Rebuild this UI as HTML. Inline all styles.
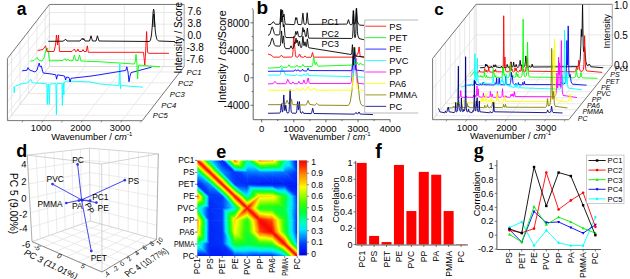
<!DOCTYPE html><html><head><meta charset="utf-8"><style>html,body{margin:0;padding:0;background:#fff;width:630px;height:279px;overflow:hidden}svg{display:block}text{font-family:"Liberation Sans",sans-serif}</style></head><body>
<svg width="630" height="279" viewBox="0 0 630 279">
<rect width="630" height="279" fill="#fff"/>
<g id="pa">
<line x1="84.9" y1="4.45" x2="84.9" y2="66.5" stroke="#e3e3e3" stroke-width="0.8" />
<line x1="124.4" y1="4.45" x2="124.4" y2="66.5" stroke="#e3e3e3" stroke-width="0.8" />
<line x1="163.9" y1="4.45" x2="163.9" y2="66.5" stroke="#e3e3e3" stroke-width="0.8" />
<line x1="49.4" y1="12.5" x2="184.2" y2="12.5" stroke="#e3e3e3" stroke-width="0.8" />
<line x1="49.4" y1="24.2" x2="184.2" y2="24.2" stroke="#e3e3e3" stroke-width="0.8" />
<line x1="49.4" y1="36" x2="184.2" y2="36" stroke="#e3e3e3" stroke-width="0.8" />
<line x1="49.4" y1="47.8" x2="184.2" y2="47.8" stroke="#e3e3e3" stroke-width="0.8" />
<line x1="49.4" y1="59.6" x2="184.2" y2="59.6" stroke="#e3e3e3" stroke-width="0.8" />
<line x1="11.6" y1="53.14" x2="11.6" y2="115.19" stroke="#e3e3e3" stroke-width="0.8" />
<line x1="20" y1="42.32" x2="20" y2="104.37" stroke="#e3e3e3" stroke-width="0.8" />
<line x1="28.4" y1="31.5" x2="28.4" y2="93.55" stroke="#e3e3e3" stroke-width="0.8" />
<line x1="36.8" y1="20.68" x2="36.8" y2="82.73" stroke="#e3e3e3" stroke-width="0.8" />
<line x1="45.2" y1="9.86" x2="45.2" y2="71.91" stroke="#e3e3e3" stroke-width="0.8" />
<line x1="7.4" y1="66.6" x2="49.4" y2="12.5" stroke="#e3e3e3" stroke-width="0.8" />
<line x1="7.4" y1="78.3" x2="49.4" y2="24.2" stroke="#e3e3e3" stroke-width="0.8" />
<line x1="7.4" y1="90.1" x2="49.4" y2="36" stroke="#e3e3e3" stroke-width="0.8" />
<line x1="7.4" y1="101.9" x2="49.4" y2="47.8" stroke="#e3e3e3" stroke-width="0.8" />
<line x1="7.4" y1="113.7" x2="49.4" y2="59.6" stroke="#e3e3e3" stroke-width="0.8" />
<line x1="42.9" y1="120.6" x2="84.9" y2="66.5" stroke="#e3e3e3" stroke-width="0.8" />
<line x1="82.4" y1="120.6" x2="124.4" y2="66.5" stroke="#e3e3e3" stroke-width="0.8" />
<line x1="121.9" y1="120.6" x2="163.9" y2="66.5" stroke="#e3e3e3" stroke-width="0.8" />
<line x1="11.6" y1="115.19" x2="146.4" y2="115.29" stroke="#e3e3e3" stroke-width="0.8" />
<line x1="20" y1="104.37" x2="154.8" y2="104.47" stroke="#e3e3e3" stroke-width="0.8" />
<line x1="28.4" y1="93.55" x2="163.2" y2="93.65" stroke="#e3e3e3" stroke-width="0.8" />
<line x1="36.8" y1="82.73" x2="171.6" y2="82.83" stroke="#e3e3e3" stroke-width="0.8" />
<line x1="45.2" y1="71.91" x2="180" y2="72.01" stroke="#e3e3e3" stroke-width="0.8" />
<line x1="49.4" y1="4.45" x2="49.4" y2="66.5" stroke="#d0d0d0" stroke-width="0.8" />
<line x1="49.4" y1="66.5" x2="184.2" y2="66.6" stroke="#d0d0d0" stroke-width="0.8" />
<line x1="7.4" y1="120.6" x2="49.4" y2="66.5" stroke="#d0d0d0" stroke-width="0.8" />
<polyline points="13.8,86.4 14.2,92.7 14.8,86.8 15.4,86.4 20.8,84 28,82.8 29.5,81 30.6,79.2 31.5,81 32.4,82.8 45.9,83.7 46.8,84 47.3,104.5 48,84 48.6,84 49.3,104.5 50,84 55.9,83.6 56.4,114.7 56.9,83.5 61.9,83.3 62.4,105.5 62.9,83.3 63.5,83 63.8,95 64.2,83 65.6,81 90,81.9 100,84 119,85.5 119.8,64 120.5,88.7 121.2,85.5 143,87.2" fill="none" stroke="#00ffff" stroke-width="0.9" stroke-linejoin="round" />
<polyline points="22.2,70.8 27,70.2 28,67.6 29.5,70 31,70.5 35.1,72 37,70 38.2,66 39.2,63.1 40.2,67 41.4,66.1 42.3,70 43.2,73 50,73.8 55.7,74.7 56.6,79.2 57.5,74.8 64.5,76 65.6,80 66.5,77 69,77.5 70.1,82 71,78.3 90,76.2 100,74.7 125.8,70.4 126.8,66.8 128,72 129,81.8 130,76 131.1,72.6 151.5,67.2" fill="none" stroke="#0000ff" stroke-width="0.9" stroke-linejoin="round" />
<polyline points="30.6,61.2 34,60.5 37,57.5 38.5,60 42,61 44,58 46,50 47.2,48 48.3,52 49.5,60.9 63,60.5 65,58.5 66,60.5 68,59.5 70,60.8 73,60.5 74.4,55 75.8,60.5 78,60.5 79.5,55 81,61 100,61.8 134.4,64 135.2,62 136,54.3 136.8,62 137.6,79 138.2,70 138.7,65 140,65.2 160,66.8" fill="none" stroke="#00ff00" stroke-width="0.9" stroke-linejoin="round" />
<polyline points="37.7,50.5 43,49.5 45.5,45.8 47,51.5 54,51.5 55.5,45 56.5,35 57.5,45 58.5,35 59.5,51.5 72,51.5 74.4,49 75.5,51.5 77,51 78,49 79,51.5 82,51.5 83,49.5 84,51.5 86.3,51.5 87.3,45.8 88.3,52.3 143.5,52.3 144.8,65 145.6,52 146.6,31.5 147.6,52.5 149,53.3 169,53.3" fill="none" stroke="#ff0000" stroke-width="0.9" stroke-linejoin="round" />
<polyline points="48.3,41.3 63,41.2 65.8,39.3 67,41 80,41 82.3,38.2 83.2,40 83.8,38.5 85,41 89.5,41 91,35.8 92.5,41 96,41 97.4,35.8 99,41 149.5,41.5 150.5,40 151.5,35 152.4,24 153.1,12 153.6,9.2 154.1,11 154.6,21 155.2,30 156,36 157,39.5 158.5,41 175,41.6" fill="none" stroke="#000000" stroke-width="0.9" stroke-linejoin="round" />
<polyline points="152.9,27 153.3,17 153.8,14 154.3,17 154.8,27" fill="none" stroke="#000" stroke-width="0.8" stroke-linejoin="round" />
<line x1="49.4" y1="4.45" x2="184.2" y2="4.45" stroke="#777" stroke-width="1" />
<line x1="7.4" y1="58.55" x2="49.4" y2="4.45" stroke="#777" stroke-width="1" />
<line x1="7.4" y1="58.55" x2="7.4" y2="120.6" stroke="#777" stroke-width="1" />
<line x1="7.4" y1="120.6" x2="142.2" y2="120.7" stroke="#777" stroke-width="1" />
<line x1="142.2" y1="120.7" x2="184.2" y2="66.6" stroke="#777" stroke-width="1" />
<line x1="184.2" y1="4.45" x2="184.2" y2="66.6" stroke="#999" stroke-width="0.9" />
<line x1="184.2" y1="12.5" x2="185.7" y2="12.5" stroke="#bbb" stroke-width="0.6" />
<line x1="184.2" y1="24.2" x2="185.7" y2="24.2" stroke="#bbb" stroke-width="0.6" />
<line x1="184.2" y1="36" x2="185.7" y2="36" stroke="#bbb" stroke-width="0.6" />
<line x1="184.2" y1="47.8" x2="185.7" y2="47.8" stroke="#bbb" stroke-width="0.6" />
<line x1="184.2" y1="59.6" x2="185.7" y2="59.6" stroke="#bbb" stroke-width="0.6" />
<line x1="23.15" y1="120.6" x2="21.95" y2="122.4" stroke="#666" stroke-width="0.7" />
<line x1="42.9" y1="120.6" x2="41.7" y2="122.4" stroke="#666" stroke-width="0.7" />
<line x1="62.65" y1="120.6" x2="61.45" y2="122.4" stroke="#666" stroke-width="0.7" />
<line x1="82.4" y1="120.6" x2="81.2" y2="122.4" stroke="#666" stroke-width="0.7" />
<line x1="102.15" y1="120.6" x2="100.95" y2="122.4" stroke="#666" stroke-width="0.7" />
<line x1="121.9" y1="120.6" x2="120.7" y2="122.4" stroke="#666" stroke-width="0.7" />
<line x1="141.65" y1="120.6" x2="140.45" y2="122.4" stroke="#666" stroke-width="0.7" />
<text x="16.8" y="14.5" font-size="17.5" text-anchor="start" font-weight="bold" font-style="normal" fill="#000" >a</text>
<text x="187.5" y="15.4" font-size="10" text-anchor="start" font-weight="normal" font-style="normal" fill="#000" >7.6</text>
<text x="187.5" y="27.1" font-size="10" text-anchor="start" font-weight="normal" font-style="normal" fill="#000" >3.8</text>
<text x="187.5" y="38.9" font-size="10" text-anchor="start" font-weight="normal" font-style="normal" fill="#000" >0.0</text>
<text x="186.5" y="50.7" font-size="10" text-anchor="start" font-weight="normal" font-style="normal" fill="#000" >-3.8</text>
<text x="186.5" y="62.5" font-size="10" text-anchor="start" font-weight="normal" font-style="normal" fill="#000" >-7.6</text>
<text x="182" y="37.7" font-size="10" text-anchor="middle" font-weight="normal" font-style="normal" fill="#000" transform="rotate(-90 182 37.7)" >Intensity / Score</text>
<text x="41.1" y="131" font-size="9.2" text-anchor="middle" font-weight="normal" font-style="normal" fill="#000" >1000</text>
<text x="80.6" y="131" font-size="9.2" text-anchor="middle" font-weight="normal" font-style="normal" fill="#000" >2000</text>
<text x="120.1" y="131" font-size="9.2" text-anchor="middle" font-weight="normal" font-style="normal" fill="#000" >3000</text>
<text x="51.2" y="140" font-size="9.4" text-anchor="start" font-weight="normal" font-style="normal" fill="#000" >Wavenumber / <tspan font-style="italic">cm</tspan><tspan font-size="6" dy="-4">-1</tspan></text>
<text x="186.5" y="75.2" font-size="7.7" text-anchor="start" font-weight="normal" font-style="italic" fill="#000" >PC1</text>
<text x="178" y="85.6" font-size="7.7" text-anchor="start" font-weight="normal" font-style="italic" fill="#000" >PC2</text>
<text x="169.8" y="96.8" font-size="7.7" text-anchor="start" font-weight="normal" font-style="italic" fill="#000" >PC3</text>
<text x="161.3" y="107.6" font-size="7.7" text-anchor="start" font-weight="normal" font-style="italic" fill="#000" >PC4</text>
<text x="152.8" y="118.2" font-size="7.7" text-anchor="start" font-weight="normal" font-style="italic" fill="#000" >PC5</text>
</g>
<g id="pb">
<polyline points="268,113.29 279.8,113.09 280.2,112.59 280.6,110.52 281.2,104.15 281.4,104.12 282.2,111.53 282.4,112.05 282.6,111.96 283,109.24 283.6,97.06 283.8,94.95 284.6,108.98 284.8,110.51 285,110.63 285.8,105.14 286.6,111.51 287,112.79 288.2,112.99 288.6,112.75 289,111.53 289.4,106.2 290,89.75 290.2,89.76 291,109.72 291.4,112.47 292,113.13 296,113.25 296.4,112.84 296.8,110.93 297.4,102.92 297.6,101.51 298.4,109.75 298.6,109.76 299.4,101.53 300.2,110.97 300.6,112.89 301,113.29 301.6,113.2 302.6,111.61 303.6,113.35 311.2,113.6 311.6,113.18 312.6,108.28 312.8,108.29 313.6,112.66 314,113.5 354.6,114.17 356,112.36 357.2,114 357.6,114.06 358.2,113.38 358.8,112.07 359,111.9 360.2,114.04 373,114.6" fill="none" stroke="#000080" stroke-width="0.9" stroke-linejoin="round" />
<polyline points="268,104.69 280.4,104.65 282,103.36 284,104.69 285,104.6 285.6,104.02 287,100.27 287.2,100.27 288.6,104.04 289.4,104.68 290,104.66 290.4,104.23 291.4,99.11 291.6,99.12 292.4,103.74 292.8,104.63 305.8,105 306.4,104.61 308,100.58 308.2,100.58 309.6,104.37 314.8,105.17 315.8,104.45 316.6,103.42 317,103.43 318.6,105.16 348,105.44 349.2,104.41 350.2,101.97 351.8,92.24 353.6,72.82 354.8,47.37 355,48.7 356,65.9 357.6,78.57 359.6,99.22 360.8,103.79 362.2,105.53 364,105.94" fill="none" stroke="#808000" stroke-width="0.9" stroke-linejoin="round" />
<polyline points="268,90.2 295.6,90.24 296.2,89.75 297,88.43 297.2,88.43 298.4,90.16 301.2,90.2 302.6,88.21 303.8,90.07 306,90.2 306.6,89.7 308,86.5 308.2,86.51 309.6,89.72 311.6,90.34 312.4,90.01 313.8,88.03 314,88.03 315.6,90.21 351,90.14 351.8,89.54 352.2,88.5 352.6,85.71 354,57.35 354.2,56.96 354.6,59.36 354.8,59.91 355.2,58.74 355.4,58.56 355.8,63.91 356.8,84.93 357.2,88.19 357.6,89.47 364,90.8" fill="none" stroke="#ffff00" stroke-width="0.9" stroke-linejoin="round" />
<polyline points="268,83.89 273.2,83.63 274.8,81.4 275,81.3 276.8,83.63 285.8,83.73 286.4,83.24 287.6,79.4 287.8,79.39 289.6,83.28 291.4,83.78 292,83.45 292.8,81.94 293,81.94 294,83.66 297.6,83.74 298,83.36 298.8,81.37 299,81.37 299.8,83.35 302.4,83.74 302.8,83.44 303.8,79.99 304,79.99 304.8,83.03 305.2,83.6 306.4,83.61 306.8,83.18 308,78.02 308.2,78.02 309.2,82.73 309.6,83.49 350.4,83.46 351,82.95 351.4,81.37 352.4,63.75 352.6,63.56 353.2,73.07 353.4,73.26 354.2,53.67 354.4,53.58 355,68.97 355.2,70.54 355.4,68.82 355.8,60.1 356,58.09 357,79.75 357.4,82.51 357.8,83.2 364,83.94" fill="none" stroke="#ff00ff" stroke-width="0.9" stroke-linejoin="round" />
<polyline points="268,75.09 279.8,75.06 280.4,74.42 281.8,67.88 282,67.82 283,71.6 283.2,71.72 283.8,71.13 284,71.25 285.2,74.64 295.6,75.61 297,74.28 298.4,75.67 302.6,75.72 304,73.93 305.2,75.62 306,75.78 306.6,75.23 307.4,73.22 307.6,73.03 308.8,75.6 352.2,76.62 352.8,76.07 353.2,74.55 353.6,70.04 354.4,51.07 354.6,49.17 354.8,51.08 355.8,72.87 356.2,75.62 356.6,76.45 364,77.37" fill="none" stroke="#00ffff" stroke-width="0.9" stroke-linejoin="round" />
<polyline points="268,71.3 294.2,71.04 295.2,69.73 295.4,69.73 296.4,70.99 297,70.93 298,69.68 299,70.95 301.4,71.01 302,70.25 302.4,69.36 302.6,69.17 303.6,70.86 306.4,71.03 307,70.57 308,68.22 308.2,68.22 309.2,70.57 351.2,70.68 351.8,70.2 352.2,68.65 353.2,56.17 353.4,56.86 353.8,59.52 354,58.78 354.4,53.57 354.6,52.36 355.6,68.07 356,70.03 364,70.98" fill="none" stroke="#0000ff" stroke-width="0.9" stroke-linejoin="round" />
<polyline points="268,68.1 279.6,67.55 281.2,65.68 281.4,65.67 282.8,67.35 287.2,67.25 288,66.37 288.8,64.93 289,64.92 290.4,67.03 295.6,66.98 297,65.11 298.2,66.76 301.4,66.78 302,66.15 302.8,64.47 303,64.46 304.2,66.58 312,66.32 312.4,65.86 312.8,64.22 313.6,57.42 313.8,57.54 315,64.55 315.2,64.81 315.4,64.65 316.2,62.22 316.4,62.23 317.4,65.55 318,66.19 352.2,65.05 352.6,64.7 353.2,62.86 353.8,59.61 354,59.19 354.2,59.59 355.2,64.14 355.6,64.55 356,64.23 356.8,62.25 357,62.05 358.2,64.55 358.8,64.84 359.4,64.58 360.4,63.01 360.6,63.01 361.8,64.71 364,64.87" fill="none" stroke="#00ff00" stroke-width="0.9" stroke-linejoin="round" />
<polyline points="268,53.82 270,54.86 271,54.88 273.4,57.07 279.6,57.18 281.2,55.22 281.4,55.13 283.2,57.19 291.8,57.06 292.2,56.81 292.6,55.73 293,51.19 293.6,36.79 293.8,36.12 295.4,54.47 295.8,56.37 296.2,56.97 298,57.15 298.6,56.5 299.4,54.22 299.6,53.99 300.8,56.88 303.6,57.27 305,55.92 306.4,57.29 311,57.25 311.4,56.87 312.4,52.57 312.6,52.57 313.4,56.39 313.8,57.13 355.8,57.15 356.4,56.5 357.4,53.2 357.6,53.08 358,53.52 358.2,53.28 359,46.88 359.2,46.99 360,55.14 360.4,56.7 364,57.36" fill="none" stroke="#ff0000" stroke-width="0.9" stroke-linejoin="round" />
<polyline points="268,46.28 269.2,45.87 270,44.79 272,38.12 272.2,37.97 272.6,38.55 274.4,44.76 275.4,45.96 279.8,46.2 280.2,45.73 280.6,43.43 281.4,30.99 281.6,31.01 282.4,42.8 282.6,43.3 283.4,35.93 283.6,36.06 284.4,45.65 284.8,47.58 286,48.65 289.6,48.64 290,48.32 290.8,46.05 291,45.76 292,48.25 292.6,48.54 293.2,48.29 293.6,47.35 294.4,42.51 294.6,42.32 295,43.6 295.2,43.59 296,38.08 296.6,42.14 296.8,42.74 297,42.29 297.4,40.11 297.6,40.25 298.4,45.85 298.6,45.95 299.4,41.31 299.6,41.33 300.4,46.65 300.8,47.62 301.2,47.74 301.6,47.35 302,45.59 302.8,36.35 303,36.33 303.8,45.07 304,45.78 304.2,45.63 304.8,42.32 305,41.77 306,46.57 306.2,46.68 306.6,45.23 307.2,39.72 307.4,38.91 308.4,46.73 308.8,47.76 351,54.5 351.4,54.23 351.8,52.29 352.4,44.67 352.6,46.36 353.2,64.91 353.4,65.25 354,48.88 354.2,47.35 355,55.12 355.4,56.01 364,56.99" fill="none" stroke="#000" stroke-width="0.9" stroke-linejoin="round" />
<polyline points="268,35.27 269.2,34.85 270,33.75 272,27.01 272.2,26.85 272.6,27.43 274.4,33.71 275.4,34.9 278.8,34.91 279.4,34.61 279.8,33.4 280.2,28.64 280.8,13.13 281,10.61 281.6,20.59 281.8,22.1 282,21 282.4,15.63 282.6,15.91 283.2,25.97 283.4,26.97 284,24.29 285,35.41 285.4,36.91 286,37.56 294,37.63 294.6,37.16 295,35.91 295.6,32.02 295.8,31.39 296.6,34.5 296.8,34.28 297.4,31.27 297.6,31.29 298.4,35.83 298.8,36.66 301.2,36.72 301.6,36.4 302,35.02 302.8,27.68 303,27.58 303.6,31.8 303.8,31.99 304.4,29.9 305.4,36.05 305.8,36.73 306.2,36.52 306.6,34.82 307.2,28.91 307.4,28.06 308.4,37.03 308.8,38.16 351.6,38.48 352.2,38.14 352.4,37.78 352.6,36.83 353,29.94 353.6,10.91 354.4,34.49 354.6,36.73 354.8,37.58 355,37.78 355.2,37.67 355.4,37.23 355.8,33.59 356.6,8.44 357.4,31.31 357.8,35.2 359,38.56 364,39.74" fill="none" stroke="#000" stroke-width="0.9" stroke-linejoin="round" />
<polyline points="268,24.65 271,24.4 273.2,21.72 273.6,21.86 275.4,24.28 279.2,24.28 279.6,23.88 280,22.23 281,9.16 281.6,14.77 281.8,15.35 282.4,10.11 282.6,10.2 283.2,16.68 283.4,17.04 284,14.15 285,23.03 285.4,24.15 294,24.64 294.4,24.39 294.8,23.28 295.6,17.67 296.2,19.47 296.8,17.67 297.6,23.29 298,24.4 301,24.63 301.4,24.42 301.8,23.51 302.8,13.18 303,13.18 303.8,22.35 304.2,24.09 304.8,24.55 305.6,24.46 306,23.85 306.4,21.49 307,13.87 307.2,12.72 308.2,23.06 308.6,24.37 346.8,24.11 347.2,23.81 348.4,19.7 348.6,19.73 349.6,23.78 350.2,24.6 351.8,24.69 352.2,24.26 352.6,21.66 353.2,10.63 353.4,10.63 354,21.6 354.4,24.09 354.6,24.31 355,24.11 355.4,22.7 356.2,8.72 356.4,8.39 357.2,20.76 358.4,24.05 359.8,25.12 364,25.35" fill="none" stroke="#000" stroke-width="0.9" stroke-linejoin="round" />
<line x1="253.2" y1="9.7" x2="253.2" y2="119.7" stroke="#666" stroke-width="1" />
<line x1="253.2" y1="119.7" x2="390.1" y2="119.7" stroke="#666" stroke-width="1" />
<line x1="250.5" y1="22.8" x2="253.2" y2="22.8" stroke="#444" stroke-width="0.8" />
<line x1="250.5" y1="50.3" x2="253.2" y2="50.3" stroke="#444" stroke-width="0.8" />
<line x1="250.5" y1="77.8" x2="253.2" y2="77.8" stroke="#444" stroke-width="0.8" />
<line x1="250.5" y1="105.3" x2="253.2" y2="105.3" stroke="#444" stroke-width="0.8" />
<line x1="251.8" y1="9.05" x2="253.2" y2="9.05" stroke="#444" stroke-width="0.8" />
<line x1="251.8" y1="36.55" x2="253.2" y2="36.55" stroke="#444" stroke-width="0.8" />
<line x1="251.8" y1="64.05" x2="253.2" y2="64.05" stroke="#444" stroke-width="0.8" />
<line x1="251.8" y1="91.55" x2="253.2" y2="91.55" stroke="#444" stroke-width="0.8" />
<line x1="261.7" y1="119.5" x2="261.7" y2="122.3" stroke="#444" stroke-width="0.8" />
<line x1="277.75" y1="119.5" x2="277.75" y2="121" stroke="#444" stroke-width="0.8" />
<line x1="293.8" y1="119.5" x2="293.8" y2="122.3" stroke="#444" stroke-width="0.8" />
<line x1="309.85" y1="119.5" x2="309.85" y2="121" stroke="#444" stroke-width="0.8" />
<line x1="325.9" y1="119.5" x2="325.9" y2="122.3" stroke="#444" stroke-width="0.8" />
<line x1="341.95" y1="119.5" x2="341.95" y2="121" stroke="#444" stroke-width="0.8" />
<line x1="358" y1="119.5" x2="358" y2="122.3" stroke="#444" stroke-width="0.8" />
<line x1="374.05" y1="119.5" x2="374.05" y2="121" stroke="#444" stroke-width="0.8" />
<line x1="390.1" y1="119.5" x2="390.1" y2="122.3" stroke="#444" stroke-width="0.8" />
<rect x="364.7" y="20" width="53.5" height="93" fill="#fff"/>
<polyline points="418.2,20 364.7,20 364.7,113 418.2,113" fill="none" stroke="#aaa" stroke-width="0.8"/>
<line x1="365.4" y1="26.2" x2="386.2" y2="26.2" stroke="#ff3333" stroke-width="1" />
<text x="389.3" y="29.5" font-size="9.3" text-anchor="start" font-weight="normal" font-style="normal" fill="#000" >PS</text>
<line x1="365.4" y1="37.65" x2="386.2" y2="37.65" stroke="#33ee33" stroke-width="1" />
<text x="389.3" y="40.95" font-size="9.3" text-anchor="start" font-weight="normal" font-style="normal" fill="#000" >PET</text>
<line x1="365.4" y1="49.1" x2="386.2" y2="49.1" stroke="#3333ff" stroke-width="1" />
<text x="389.3" y="52.4" font-size="9.3" text-anchor="start" font-weight="normal" font-style="normal" fill="#000" >PE</text>
<line x1="365.4" y1="60.55" x2="386.2" y2="60.55" stroke="#33ffff" stroke-width="1" />
<text x="389.3" y="63.85" font-size="9.3" text-anchor="start" font-weight="normal" font-style="normal" fill="#000" >PVC</text>
<line x1="365.4" y1="72" x2="386.2" y2="72" stroke="#ff33ff" stroke-width="1" />
<text x="389.3" y="75.3" font-size="9.3" text-anchor="start" font-weight="normal" font-style="normal" fill="#000" >PP</text>
<line x1="365.4" y1="83.45" x2="386.2" y2="83.45" stroke="#ffff33" stroke-width="1" />
<text x="389.3" y="86.75" font-size="9.3" text-anchor="start" font-weight="normal" font-style="normal" fill="#000" >PA6</text>
<line x1="365.4" y1="94.9" x2="386.2" y2="94.9" stroke="#999922" stroke-width="1" />
<text x="389.3" y="98.2" font-size="9.3" text-anchor="start" font-weight="normal" font-style="normal" fill="#000" >PMMA</text>
<line x1="365.4" y1="106.35" x2="386.2" y2="106.35" stroke="#333399" stroke-width="1" />
<text x="389.3" y="109.65" font-size="9.3" text-anchor="start" font-weight="normal" font-style="normal" fill="#000" >PC</text>
<text x="256.6" y="14.3" font-size="19" text-anchor="start" font-weight="bold" font-style="normal" fill="#000" >b</text>
<text x="249.4" y="26.6" font-size="10" text-anchor="end" font-weight="normal" font-style="normal" fill="#000" >8000</text>
<text x="249.4" y="54.1" font-size="10" text-anchor="end" font-weight="normal" font-style="normal" fill="#000" >4000</text>
<text x="249.4" y="81.6" font-size="10" text-anchor="end" font-weight="normal" font-style="normal" fill="#000" >0</text>
<text x="249.4" y="109.1" font-size="10" text-anchor="end" font-weight="normal" font-style="normal" fill="#000" >-4000</text>
<text x="225.8" y="56.7" font-size="10.6" text-anchor="middle" font-weight="normal" font-style="normal" fill="#000" transform="rotate(-90 225.8 56.7)" >Intensity / <tspan font-style="italic">cts</tspan>/Score</text>
<text x="261.7" y="131.5" font-size="9.6" text-anchor="middle" font-weight="normal" font-style="normal" fill="#000" >0</text>
<text x="293.8" y="131.5" font-size="9.6" text-anchor="middle" font-weight="normal" font-style="normal" fill="#000" >1000</text>
<text x="325.9" y="131.5" font-size="9.6" text-anchor="middle" font-weight="normal" font-style="normal" fill="#000" >2000</text>
<text x="358" y="131.5" font-size="9.6" text-anchor="middle" font-weight="normal" font-style="normal" fill="#000" >3000</text>
<text x="390.1" y="131.5" font-size="9.6" text-anchor="middle" font-weight="normal" font-style="normal" fill="#000" >4000</text>
<text x="289.5" y="139.9" font-size="9.4" text-anchor="start" font-weight="normal" font-style="normal" fill="#000" >Wavenumber / <tspan font-style="italic">cm</tspan><tspan font-size="6" dy="-4">-1</tspan></text>
<text x="321.6" y="25.2" font-size="8.9" text-anchor="start" font-weight="normal" font-style="normal" fill="#000" >PC1</text>
<text x="321.6" y="36.5" font-size="8.9" text-anchor="start" font-weight="normal" font-style="normal" fill="#000" >PC2</text>
<text x="321.6" y="47.4" font-size="8.9" text-anchor="start" font-weight="normal" font-style="normal" fill="#000" >PC3</text>
</g>
<g id="pc">
<line x1="510.3" y1="4.3" x2="510.3" y2="65.5" stroke="#e3e3e3" stroke-width="0.8" />
<line x1="466.8" y1="119.7" x2="510.3" y2="65.5" stroke="#e3e3e3" stroke-width="0.8" />
<line x1="549.7" y1="4.3" x2="549.7" y2="65.5" stroke="#e3e3e3" stroke-width="0.8" />
<line x1="506.2" y1="119.7" x2="549.7" y2="65.5" stroke="#e3e3e3" stroke-width="0.8" />
<line x1="589.1" y1="4.3" x2="589.1" y2="65.5" stroke="#e3e3e3" stroke-width="0.8" />
<line x1="545.6" y1="119.7" x2="589.1" y2="65.5" stroke="#e3e3e3" stroke-width="0.8" />
<line x1="476.1" y1="34.9" x2="612.3" y2="34.9" stroke="#e3e3e3" stroke-width="0.8" />
<line x1="432.6" y1="89.1" x2="476.1" y2="34.9" stroke="#e3e3e3" stroke-width="0.8" />
<line x1="474.3" y1="6.54" x2="474.3" y2="67.74" stroke="#e3e3e3" stroke-width="0.8" />
<line x1="474.3" y1="67.74" x2="610.5" y2="67.74" stroke="#e3e3e3" stroke-width="0.7" />
<line x1="469.49" y1="12.54" x2="469.49" y2="73.74" stroke="#e3e3e3" stroke-width="0.8" />
<line x1="469.49" y1="73.74" x2="605.69" y2="73.74" stroke="#e3e3e3" stroke-width="0.7" />
<line x1="464.68" y1="18.53" x2="464.68" y2="79.73" stroke="#e3e3e3" stroke-width="0.8" />
<line x1="464.68" y1="79.73" x2="600.88" y2="79.73" stroke="#e3e3e3" stroke-width="0.7" />
<line x1="459.87" y1="24.52" x2="459.87" y2="85.72" stroke="#e3e3e3" stroke-width="0.8" />
<line x1="459.87" y1="85.72" x2="596.07" y2="85.72" stroke="#e3e3e3" stroke-width="0.7" />
<line x1="455.06" y1="30.52" x2="455.06" y2="91.72" stroke="#e3e3e3" stroke-width="0.8" />
<line x1="455.06" y1="91.72" x2="591.26" y2="91.72" stroke="#e3e3e3" stroke-width="0.7" />
<line x1="450.25" y1="36.51" x2="450.25" y2="97.71" stroke="#e3e3e3" stroke-width="0.8" />
<line x1="450.25" y1="97.71" x2="586.45" y2="97.71" stroke="#e3e3e3" stroke-width="0.7" />
<line x1="445.44" y1="42.5" x2="445.44" y2="103.7" stroke="#e3e3e3" stroke-width="0.8" />
<line x1="445.44" y1="103.7" x2="581.64" y2="103.7" stroke="#e3e3e3" stroke-width="0.7" />
<line x1="440.63" y1="48.49" x2="440.63" y2="109.69" stroke="#e3e3e3" stroke-width="0.8" />
<line x1="440.63" y1="109.69" x2="576.83" y2="109.69" stroke="#e3e3e3" stroke-width="0.7" />
<line x1="435.82" y1="54.49" x2="435.82" y2="115.69" stroke="#e3e3e3" stroke-width="0.8" />
<line x1="435.82" y1="115.69" x2="572.02" y2="115.69" stroke="#e3e3e3" stroke-width="0.7" />
<line x1="476.1" y1="4.3" x2="476.1" y2="65.5" stroke="#d0d0d0" stroke-width="0.8" />
<line x1="476.1" y1="65.5" x2="612.3" y2="65.5" stroke="#d0d0d0" stroke-width="0.8" />
<line x1="432.6" y1="119.7" x2="476.1" y2="65.5" stroke="#d0d0d0" stroke-width="0.8" />
<polyline points="480.13,67.78 484.7,67.51 485.02,67.21 485.33,65.89 485.49,64.14 485.65,64.41 485.81,65.76 485.96,65.93 486.12,64.78 486.28,64.44 486.75,65.97 487.07,64.81 487.38,66.87 490.38,67.61 490.69,67.44 491.16,66.21 491.48,67.28 492.74,67.42 493.21,67.02 493.84,64.85 494,64.83 494.63,66.82 494.95,66.9 495.26,66.35 495.58,64.72 495.73,64.85 496.21,66.99 500.62,67.58 500.94,67.35 501.41,66.13 501.88,67.39 506.29,67.56 506.61,67.33 506.92,66.21 507.08,64.37 507.24,64.72 507.4,66.11 507.71,66.09 508.03,67.28 509.76,67.32 510.23,66.8 510.55,65.63 511.02,61.84 511.49,65.98 511.97,66.97 512.6,66.99 512.91,66.58 513.23,65.28 513.54,62.04 513.7,62.04 514.17,66.12 514.65,66.99 515.12,67 515.43,66.56 515.91,64.8 516.06,65.03 516.38,64.51 516.7,66.64 517.17,67.26 518.43,67.15 518.9,66.56 519.37,63.96 519.69,63.83 520.16,60.34 520.79,65.49 521.11,66.32 521.27,66.43 521.42,66.29 521.74,64.75 522.21,66.87 523.63,67.12 524.42,66.5 524.89,65.34 525.36,61.81 525.84,55.91 526.62,64.59 527.41,66.73 528.67,67.26 529.15,66.93 529.46,65.86 529.62,66.04 529.93,67.05 530.88,67.3 531.35,66.95 531.82,65.52 532.14,64.15 532.93,67 577.37,66.63 578.79,65.37 579.58,63.41 580.21,59.2 580.84,45.55 581.31,29.34 581.47,30.33 581.78,36.51 581.94,36.46 582.57,4.05 583.2,44.91 583.52,50.96 583.68,51.72 583.83,51.49 584.46,46.9 584.62,47.32 585.88,61.85 586.98,65.07 587.77,65.61 588.4,65.31 589.19,64.03 589.51,64.33 590.92,66.76 603.06,67.72" fill="none" stroke="#000000" stroke-width="0.9" stroke-linejoin="round" />
<polyline points="476.9,72.37 478.79,72.15 479.1,71.55 479.42,70.01 479.73,71.86 483.83,72.08 484.31,71.46 484.78,68.65 485.41,71.65 486.04,72.03 486.35,71.84 486.67,70.24 486.83,69.94 487.14,71.78 487.61,71.99 488.09,71.58 488.4,70.2 488.72,66.44 489.19,71.16 489.66,72 493.45,72.13 493.92,71.64 494.23,70.27 494.39,70.01 494.71,71.38 494.86,71.62 495.02,71.64 495.34,70.95 495.65,69.38 496.13,71.77 501.8,71.81 502.43,71.19 502.9,69.63 503.22,65.85 503.53,45.66 503.69,15.76 504.16,62.94 504.32,66.01 504.48,66.69 504.64,65.19 504.95,56.95 505.27,68.09 505.58,70.62 506.37,71.79 508.73,71.83 509.21,71.23 509.52,69.44 509.84,65.99 510.15,69.42 510.31,69.68 510.62,67.3 510.94,62.37 511.41,69.91 511.57,70.4 511.73,70.33 512.04,68.87 512.52,71.45 513.62,71.97 514.25,71.69 514.56,71.08 515.04,67.94 515.51,70.5 515.67,70.54 516.14,68.05 516.3,68.08 516.77,71.37 518.5,72.07 519.13,71.76 519.77,70.06 520.24,71.31 520.55,71.34 520.87,70.69 521.34,66.65 521.5,66.66 521.97,70.75 522.44,71.64 522.76,71.72 523.07,71.38 523.39,69.24 523.55,69.36 523.86,71.47 524.49,71.92 525.28,71.58 525.6,70.93 526.07,66.91 526.23,67.41 526.38,67.16 526.7,63.44 526.86,65.47 527.01,65.92 527.33,57.94 527.49,58.1 527.8,67.14 528.59,71.19 574.93,71.81 575.71,70.97 576.5,67.21 576.66,67.13 577.29,69.68 577.45,69.77 577.76,69.28 578.23,66.02 578.71,60.24 579.5,68.97 580.28,71.09 582.02,71.43 582.81,70.8 583.44,69.09 583.91,64.61 584.54,35.76 584.7,35.76 585.17,61.11 585.64,68.23 586.43,70.93 602.19,72.38" fill="none" stroke="#ff0000" stroke-width="0.9" stroke-linejoin="round" />
<polyline points="469.72,76.87 472.56,73.97 474.14,71.33 474.61,71.23 479.18,76.8 480.13,76.91 480.44,76.31 480.6,75.53 480.76,75.73 481.07,76.93 481.39,77.12 481.7,76.59 481.86,75.84 482.33,77.28 483.28,77.43 483.75,76.92 484.07,75.27 484.38,70.76 484.85,76.44 485.33,77.42 485.96,77.46 486.27,76.9 486.59,75.29 487.06,77.32 487.53,77.71 487.85,77.65 488.32,76.8 488.79,77.8 491.95,77.69 492.42,77.2 492.73,76.17 493.21,68.46 493.52,71.73 493.84,72.59 494.15,74.16 494.31,74.02 494.94,76.99 495.26,77.25 495.41,77.02 495.73,75.62 496.04,77.49 501.24,77.79 501.87,77.18 502.19,76.01 502.66,68.44 502.98,73.06 503.14,73.16 503.45,66.63 503.61,66.78 503.92,74.25 504.08,75.36 504.24,75.6 504.55,74.1 504.71,73.93 505.18,76.97 508.02,77.82 508.81,77.4 509.12,76.87 509.75,73.64 510.23,63.5 510.86,74.72 511.17,76.29 511.49,76.65 511.8,76.14 511.96,76.08 512.28,76.58 512.75,75.07 513.22,77.3 514.48,77.72 515.27,77.17 515.74,75.61 516.22,72.09 516.85,76.15 517.16,76.64 517.32,76.53 517.79,74.03 518.42,77.15 520.47,77.59 521.42,76.89 521.89,75.75 522.2,73.81 522.52,68.11 522.84,51.26 523.15,19.13 523.62,67.35 524.1,74.62 524.73,76.51 525.36,76.82 525.99,76.37 526.46,75 526.78,72.5 527.09,65.39 527.56,42.07 528.04,68.08 528.51,74.75 529.3,77.06 574.53,77.75 575.32,76.89 575.79,75.07 576.42,69.4 577.21,75.89 578,77.46 579.57,77.65 580.04,77.21 580.52,75.51 580.83,72.78 580.99,72.36 581.62,76.7 582.57,77.91 597.38,78.29" fill="none" stroke="#00ff00" stroke-width="0.9" stroke-linejoin="round" />
<polyline points="467.28,85.18 470.9,85.05 471.22,84.74 471.38,84.2 471.53,84.12 471.85,84.93 473.42,84.91 473.74,84.62 474.05,83.25 474.21,81.03 474.37,81.46 474.69,83.95 474.84,84.04 475.16,83.2 475.47,81.4 476.1,84.4 479.73,85 480.04,84.69 480.36,83.52 480.83,84.83 482.09,84.95 482.41,84.69 482.88,82.7 483.04,83.28 483.2,83.35 483.35,82.58 483.83,84.74 494.39,84.93 494.7,84.61 495.02,82.72 495.17,82.92 495.49,84.42 495.65,84.47 495.96,84.06 496.28,82.07 496.59,78.19 497.06,83.81 497.54,84.61 498.17,84.62 498.48,84.28 498.8,83.08 499.11,78.37 499.27,78.05 499.74,83.42 500.22,84.64 504.47,84.82 504.94,84.38 505.26,83.34 505.73,76.25 506.21,83.32 506.68,84.55 509.51,84.55 510.15,83.94 510.62,82.52 511.09,77.43 511.41,72.4 511.88,76.99 512.19,75.9 513.14,83.48 514.4,84.77 515.35,84.79 515.66,84.12 515.82,83.35 516.13,84.69 517.71,84.91 518.03,84.56 518.34,82.51 518.5,82.69 518.81,84.61 521.97,84.98 522.28,84.79 522.6,83.81 522.75,82.43 523.23,84.57 523.54,84.66 523.86,84.28 524.33,81.46 524.96,84.53 560.73,84.64 561.37,83.96 561.84,82.1 562,81.86 562.63,83.91 563.73,84.18 564.83,83.33 565.46,81.83 565.94,78.8 566.41,68.36 566.88,40.5 567.35,63.04 567.51,65.09 567.67,63.22 568.14,25.9 568.3,26.38 568.77,67.82 569.09,75.05 569.4,76.85 569.56,76.65 570.03,74.25 570.19,74.56 571.14,82.02 572.55,84.23 586.58,85.16" fill="none" stroke="#0000ff" stroke-width="0.9" stroke-linejoin="round" />
<polyline points="460.89,87.14 464.67,86.24 464.99,85.64 465.15,84.76 465.3,84.49 465.62,85.83 472.87,84.42 473.66,83.44 474.13,81.53 474.45,77.49 474.92,53.72 475.55,78.48 475.86,80.99 476.02,81.38 476.18,81.42 476.49,80.41 476.81,76.19 477.28,58.01 477.76,78.13 478.23,82.2 479.17,83.59 481.7,83.71 482.01,83.43 482.48,82.07 483.11,83.57 483.9,83.66 484.22,83.23 484.53,82.17 484.85,83.49 491.78,83.81 492.25,83.37 492.73,81.72 493.2,76.32 493.83,82.67 494.62,84.11 499.98,84.92 500.45,84.47 500.76,82.84 500.92,80.56 501.08,80.85 501.24,80.8 501.4,80.16 501.71,81.52 501.87,80.98 502.18,76.69 502.34,76.78 502.81,82.45 502.97,82.32 503.13,81.15 503.29,81.33 503.6,84.28 504.07,85.27 504.86,85.37 505.34,84.73 505.65,83.24 506.12,74.77 506.28,74.24 506.91,84.12 507.38,85.67 508.01,86.1 508.33,85.83 508.64,84.69 508.8,84.67 509.28,86.33 509.75,86.58 510.06,86.16 510.38,83.77 510.85,86.68 514.16,87.55 514.48,87.34 514.79,86.43 515.11,84.25 515.58,87.22 516.05,87.61 516.52,87.33 516.84,86.3 517.16,84.12 517.79,87.42 518.57,88.09 519.2,87.92 519.52,87.24 519.83,85.15 519.99,85.1 520.46,87.84 559.86,89.15 560.81,88.24 561.28,86.75 561.76,81.7 562.07,74.69 562.23,74.56 562.7,83.16 563.02,84.92 563.17,85.02 563.49,84.03 563.8,80.68 564.12,70.82 564.59,30.01 565.22,76.91 565.7,83.49 565.85,83.98 566.01,83.94 566.33,81.9 566.8,71.59 566.96,71.75 567.59,85 568.22,87.98 581.77,89.86" fill="none" stroke="#00ffff" stroke-width="0.9" stroke-linejoin="round" />
<polyline points="458.84,97.48 459.79,97.17 460.1,96.72 460.42,95.04 460.73,90.51 461.2,96.17 461.68,97.17 465.3,97.37 465.77,96.82 466.09,95.95 466.72,97.27 473.02,97.35 473.34,96.94 473.65,95.08 473.97,96.88 474.44,97.28 475.07,97.01 475.55,95.42 476.02,96.51 476.18,96.44 476.49,95.3 476.96,85.95 477.28,94.35 477.44,95.45 477.59,95.72 477.75,95.4 478.22,88.78 478.54,95.3 478.86,96.74 482.32,97.32 482.8,96.9 483.11,95.55 483.43,92.96 483.9,96.73 489.26,97.28 489.73,96.78 490.04,95.08 490.36,91.49 490.52,91.9 490.83,95.81 491.15,96.76 491.46,96.89 491.78,96.41 492.09,93.96 492.25,94.09 492.57,96.57 493.2,97.34 496.35,97.29 496.82,96.82 497.14,95.42 497.45,91.64 497.92,96.36 498.4,97.19 501.23,97.14 501.71,96.58 502.02,95.3 502.5,88.69 502.97,95.28 503.44,96.8 504.07,97.12 504.39,96.99 504.86,95.85 505.02,95.96 505.33,96.83 505.49,96.96 505.65,96.91 505.96,95.82 506.12,95.88 506.44,97.1 509.9,97.28 510.38,96.83 510.85,94.53 511.01,94.75 511.16,94.36 511.32,94.28 511.64,95.92 511.79,95.93 512.11,94.74 512.27,94.79 512.58,95.75 512.9,93.75 513.37,96.52 513.53,96.63 513.84,96.18 514.32,91.64 514.63,93.93 514.79,93.49 515.26,96.56 554.35,96.75 555.29,95.92 555.92,94.17 556.39,89.45 556.87,73.27 557.02,72.97 557.5,86.93 557.66,88.08 557.81,87.88 558.13,82.74 558.6,57.22 559.07,74.76 559.55,62.85 560.02,84.42 560.18,86.69 560.33,87.37 560.49,86.78 560.81,80.53 561.28,40.53 561.44,40.73 561.91,82.14 562.38,91.8 563.17,95.41 577.04,97.55" fill="none" stroke="#ff00ff" stroke-width="0.9" stroke-linejoin="round" />
<polyline points="452.85,102.69 461.2,102.49 461.52,102.19 461.83,101.13 462.3,102.27 462.93,102.39 463.41,101.93 463.88,99.88 464.2,101.02 464.51,101.09 465.14,102.38 475.86,102.35 476.33,101.78 476.8,99.32 476.96,99.32 477.43,101.77 480.11,102.38 480.74,101.86 481.06,100.6 481.37,98.5 481.85,101.27 482,101.4 482.32,100.86 482.79,97.7 483.26,100.92 483.58,101.49 483.9,100.92 484.37,101.92 484.84,101.92 485.16,101.48 485.47,99.8 485.79,93.69 485.94,93.79 486.42,100.35 486.89,101.91 488.15,102.29 488.47,102.08 488.78,101.19 488.94,100.13 489.1,100.05 489.41,101.75 489.88,102.23 490.51,102.06 490.83,101.61 491.46,97.84 492.09,101.59 492.56,102.11 493.04,102.02 493.35,101.25 493.51,100.29 493.67,100.1 493.98,101.73 494.61,102.29 495.72,101.99 496.19,101.24 496.5,99.63 496.98,92.94 497.29,95.39 497.45,95.75 497.76,99.32 497.92,99.59 498.08,99.05 498.71,101.8 502.81,102.31 503.44,101.8 503.75,100.83 504.07,97.18 504.38,97.72 504.7,96.36 505.49,101.41 549.77,101.7 551.03,100.57 551.82,98.38 552.29,94.78 552.77,83.84 553.24,52.05 553.4,50.62 553.71,67.28 553.87,70.16 554.03,67.37 554.5,38.96 555.29,89.06 555.92,97.39 557.02,100.73 567.42,101.97 568.53,101.11 569.31,99 570.1,94.13 570.26,93.79 571.68,100.56 572.15,101.34" fill="none" stroke="#ffff00" stroke-width="0.9" stroke-linejoin="round" />
<polyline points="446.86,107.99 452.84,107.77 453.16,107.17 453.32,106.18 453.79,107.65 454.58,107.75 454.89,107.44 455.21,105.88 455.52,107.4 456,107.62 456.63,107.23 456.94,106.45 457.42,103.53 457.73,104.55 458.05,103.16 458.2,103.63 458.52,104.15 458.68,105.07 458.83,105.03 458.99,104.01 459.15,104.23 459.46,106.69 459.94,107.5 460.88,107.61 461.2,107.35 461.51,106.17 461.67,104.53 461.83,104.22 462.14,106.91 462.62,107.68 466.4,107.71 466.87,107.21 467.19,105.57 467.34,103.67 467.5,103.66 467.82,106.6 468.13,107.2 468.29,107.08 468.6,106.04 469.08,107.6 473.33,107.73 473.81,107.25 474.12,105.69 474.28,103.76 474.44,103.58 474.75,106.68 475.22,107.56 476.17,107.51 476.48,107.09 476.96,104.28 477.12,104.01 477.59,107.02 484.21,107.78 484.52,107.42 484.84,105.31 485.15,107.23 485.47,107.7 486.57,107.59 486.89,107.21 487.36,104.85 487.52,104.55 487.99,107.08 489.57,107.76 490.04,107.55 490.51,106.6 490.98,107.49 491.61,107.31 491.93,106.74 492.56,102.01 493.19,106.59 493.35,106.79 493.51,106.59 493.66,105.75 494.14,107.43 502.49,107.68 502.96,107.22 503.59,104.35 504.22,107.08 504.54,107.3 504.85,107.12 505.17,106.2 505.48,104.39 506.11,107.22 545.67,107.33 546.46,106.55 546.93,104.82 547.4,99.32 547.56,98.63 548.19,104.89 548.67,105.96 549.14,105.98 549.77,105.13 550.4,102.37 550.87,95.78 551.34,71.5 551.66,48.35 552.29,90.19 552.76,98.75 552.92,99.22 553.08,98.75 553.55,91.32 553.71,91.68 554.34,103.24 555.13,106.27 567.42,107.95" fill="none" stroke="#808000" stroke-width="0.9" stroke-linejoin="round" />
<polyline points="438.5,108.26 439.92,111.86 444.8,112.72 445.12,112.46 445.43,110.9 445.75,112.35 446.22,112.61 446.7,112.39 447.01,111.72 447.33,109.93 447.48,109.73 447.64,108.63 447.8,108.72 447.96,109.13 448.27,107.06 448.59,107.79 449.06,111.76 454.26,112.6 454.89,112.07 455.21,110.91 455.68,102.43 455.99,110.06 456.31,111.6 456.62,111.86 457.1,111.51 457.57,109.79 457.88,104.96 458.36,66.17 458.67,99.24 458.99,107.32 459.46,109.62 459.62,109.66 460.25,111.49 460.56,111.41 460.88,110.38 461.19,104.82 461.35,97.83 461.67,105.53 462.3,111.28 462.61,111.82 462.93,111.88 463.24,111.57 463.72,109.46 463.87,109.44 464.19,110.71 464.35,110.82 464.66,110.18 464.98,107.67 465.29,96.98 465.61,56.71 465.92,97.04 466.24,107.8 466.71,111.04 467.34,111.95 467.81,111.91 468.13,111.25 468.44,109.09 468.6,108.98 469.07,111.85 471.91,112.58 472.54,112.17 473.01,110.56 473.33,111.36 473.64,110.74 473.96,107.91 474.43,80.24 474.75,103.52 475.06,109.64 475.38,110.95 475.54,111.1 475.69,111.01 476.01,109.59 476.32,101.49 476.48,101.06 476.64,105.47 476.8,105.69 477.11,97.67 477.43,108.49 477.74,111.2 478.06,111.85 478.37,111.94 478.69,111.54 479,109.37 479.32,100.95 479.63,109.48 479.95,111.77 489.4,112.77 489.88,112.3 490.19,111.5 490.82,112.64 492.4,112.6 492.87,112.15 493.19,111.14 493.5,107.07 493.66,102.35 493.82,102.35 494.13,109.85 494.45,111.8 546.46,112.66 546.93,112.25 547.56,110.09 547.72,110.09 548.35,112.2 549.92,112.53 550.55,112.03 551.03,110.57 551.5,106.16 551.66,106.16 552.29,111.31 553.08,112.52 562.53,112.99" fill="none" stroke="#000080" stroke-width="0.9" stroke-linejoin="round" />
<line x1="476.1" y1="4.3" x2="612.3" y2="4.3" stroke="#777" stroke-width="1" />
<line x1="432.6" y1="58.5" x2="476.1" y2="4.3" stroke="#777" stroke-width="1" />
<line x1="432.6" y1="58.5" x2="432.6" y2="119.7" stroke="#777" stroke-width="1" />
<line x1="432.6" y1="119.7" x2="568.8" y2="119.7" stroke="#777" stroke-width="1" />
<line x1="568.8" y1="119.7" x2="612.3" y2="65.5" stroke="#777" stroke-width="1" />
<line x1="612.3" y1="4.3" x2="612.3" y2="65.5" stroke="#999" stroke-width="0.9" />
<line x1="612.3" y1="4.5" x2="613.8" y2="4.5" stroke="#bbb" stroke-width="0.6" />
<line x1="612.3" y1="34.9" x2="613.8" y2="34.9" stroke="#bbb" stroke-width="0.6" />
<line x1="612.3" y1="65.2" x2="613.8" y2="65.2" stroke="#bbb" stroke-width="0.6" />
<line x1="447.1" y1="119.7" x2="445.9" y2="121.5" stroke="#666" stroke-width="0.7" />
<line x1="466.8" y1="119.7" x2="465.6" y2="121.5" stroke="#666" stroke-width="0.7" />
<line x1="486.5" y1="119.7" x2="485.3" y2="121.5" stroke="#666" stroke-width="0.7" />
<line x1="506.2" y1="119.7" x2="505" y2="121.5" stroke="#666" stroke-width="0.7" />
<line x1="525.9" y1="119.7" x2="524.7" y2="121.5" stroke="#666" stroke-width="0.7" />
<line x1="545.6" y1="119.7" x2="544.4" y2="121.5" stroke="#666" stroke-width="0.7" />
<line x1="565.3" y1="119.7" x2="564.1" y2="121.5" stroke="#666" stroke-width="0.7" />
<text x="434.2" y="14.8" font-size="17" text-anchor="start" font-weight="bold" font-style="normal" fill="#000" >c</text>
<text x="614" y="8.9" font-size="10" text-anchor="start" font-weight="normal" font-style="normal" fill="#000" >1.0</text>
<text x="614" y="39" font-size="10" text-anchor="start" font-weight="normal" font-style="normal" fill="#000" >0.5</text>
<text x="614" y="68.7" font-size="10" text-anchor="start" font-weight="normal" font-style="normal" fill="#000" >0.0</text>
<text x="610.5" y="31.3" font-size="9.3" text-anchor="middle" font-weight="normal" font-style="normal" fill="#000" transform="rotate(-90 610.5 31.3)" >Intensity</text>
<text x="467.2" y="130.8" font-size="9.4" text-anchor="middle" font-weight="normal" font-style="normal" fill="#000" >1000</text>
<text x="506.6" y="130.8" font-size="9.4" text-anchor="middle" font-weight="normal" font-style="normal" fill="#000" >2000</text>
<text x="546" y="130.8" font-size="9.4" text-anchor="middle" font-weight="normal" font-style="normal" fill="#000" >3000</text>
<text x="470.1" y="138.8" font-size="9.4" text-anchor="start" font-weight="normal" font-style="normal" fill="#000" >Wavenumber / <tspan font-style="italic">cm</tspan><tspan font-size="6" dy="-4">-1</tspan></text>
<text x="615" y="71.2" font-size="7" text-anchor="start" font-weight="normal" font-style="italic" fill="#000" >PC1</text>
<text x="610.35" y="77.38" font-size="7" text-anchor="start" font-weight="normal" font-style="italic" fill="#000" >PS</text>
<text x="605.7" y="83.56" font-size="7" text-anchor="start" font-weight="normal" font-style="italic" fill="#000" >PET</text>
<text x="601.05" y="89.74" font-size="7" text-anchor="start" font-weight="normal" font-style="italic" fill="#000" >PE</text>
<text x="596.4" y="95.92" font-size="7" text-anchor="start" font-weight="normal" font-style="italic" fill="#000" >PVC</text>
<text x="591.75" y="102.1" font-size="7" text-anchor="start" font-weight="normal" font-style="italic" fill="#000" >PP</text>
<text x="587.1" y="108.28" font-size="7" text-anchor="start" font-weight="normal" font-style="italic" fill="#000" >PA6</text>
<text x="582.45" y="114.46" font-size="7" text-anchor="start" font-weight="normal" font-style="italic" fill="#000" >PMMA</text>
<text x="577.8" y="120.64" font-size="7" text-anchor="start" font-weight="normal" font-style="italic" fill="#000" >PC</text>
</g>
<g id="pd">
<line x1="36.09" y1="154.11" x2="40.33" y2="238.66" stroke="#e2e2e2" stroke-width="0.7" />
<line x1="44.97" y1="153.13" x2="48.66" y2="235.71" stroke="#e2e2e2" stroke-width="0.7" />
<line x1="53.86" y1="152.14" x2="56.99" y2="232.77" stroke="#e2e2e2" stroke-width="0.7" />
<line x1="62.74" y1="151.16" x2="65.31" y2="229.83" stroke="#e2e2e2" stroke-width="0.7" />
<line x1="71.63" y1="150.17" x2="73.64" y2="226.89" stroke="#e2e2e2" stroke-width="0.7" />
<line x1="80.51" y1="149.19" x2="81.97" y2="223.94" stroke="#e2e2e2" stroke-width="0.7" />
<line x1="28" y1="169.52" x2="89.55" y2="160.33" stroke="#e2e2e2" stroke-width="0.7" />
<line x1="28.8" y1="183.93" x2="89.7" y2="172.47" stroke="#e2e2e2" stroke-width="0.7" />
<line x1="29.6" y1="198.35" x2="89.85" y2="184.6" stroke="#e2e2e2" stroke-width="0.7" />
<line x1="30.4" y1="212.77" x2="90" y2="196.73" stroke="#e2e2e2" stroke-width="0.7" />
<line x1="31.2" y1="227.18" x2="90.15" y2="208.87" stroke="#e2e2e2" stroke-width="0.7" />
<line x1="99.24" y1="149" x2="99.76" y2="223.64" stroke="#e2e2e2" stroke-width="0.7" />
<line x1="109.09" y1="149.8" x2="109.21" y2="226.29" stroke="#e2e2e2" stroke-width="0.7" />
<line x1="118.93" y1="150.6" x2="118.67" y2="228.93" stroke="#e2e2e2" stroke-width="0.7" />
<line x1="128.77" y1="151.4" x2="128.13" y2="231.57" stroke="#e2e2e2" stroke-width="0.7" />
<line x1="138.61" y1="152.2" x2="137.59" y2="234.21" stroke="#e2e2e2" stroke-width="0.7" />
<line x1="148.46" y1="153" x2="147.04" y2="236.86" stroke="#e2e2e2" stroke-width="0.7" />
<line x1="89.55" y1="160.33" x2="158" y2="168.08" stroke="#e2e2e2" stroke-width="0.7" />
<line x1="89.7" y1="172.47" x2="157.7" y2="182.37" stroke="#e2e2e2" stroke-width="0.7" />
<line x1="89.85" y1="184.6" x2="157.4" y2="196.65" stroke="#e2e2e2" stroke-width="0.7" />
<line x1="90" y1="196.73" x2="157.1" y2="210.93" stroke="#e2e2e2" stroke-width="0.7" />
<line x1="90.15" y1="208.87" x2="156.8" y2="225.22" stroke="#e2e2e2" stroke-width="0.7" />
<line x1="41.72" y1="238.17" x2="111.08" y2="266.58" stroke="#e2e2e2" stroke-width="0.7" />
<line x1="101.33" y1="224.08" x2="43.67" y2="246.67" stroke="#e2e2e2" stroke-width="0.7" />
<line x1="51.43" y1="234.73" x2="120.17" y2="261.17" stroke="#e2e2e2" stroke-width="0.7" />
<line x1="112.37" y1="227.17" x2="55.33" y2="251.73" stroke="#e2e2e2" stroke-width="0.7" />
<line x1="61.15" y1="231.3" x2="129.25" y2="255.75" stroke="#e2e2e2" stroke-width="0.7" />
<line x1="123.4" y1="230.25" x2="67" y2="256.8" stroke="#e2e2e2" stroke-width="0.7" />
<line x1="70.87" y1="227.87" x2="138.33" y2="250.33" stroke="#e2e2e2" stroke-width="0.7" />
<line x1="134.43" y1="233.33" x2="78.67" y2="261.87" stroke="#e2e2e2" stroke-width="0.7" />
<line x1="80.58" y1="224.43" x2="147.42" y2="244.92" stroke="#e2e2e2" stroke-width="0.7" />
<line x1="145.47" y1="236.42" x2="90.33" y2="266.93" stroke="#e2e2e2" stroke-width="0.7" />
<line x1="27.2" y1="155.1" x2="89.4" y2="148.2" stroke="#c8c8c8" stroke-width="0.8" />
<line x1="89.4" y1="148.2" x2="158.3" y2="153.8" stroke="#c8c8c8" stroke-width="0.8" />
<line x1="158.3" y1="153.8" x2="101.7" y2="164" stroke="#c8c8c8" stroke-width="0.8" />
<line x1="101.7" y1="164" x2="27.2" y2="155.1" stroke="#c8c8c8" stroke-width="0.8" />
<line x1="89.4" y1="148.2" x2="90.3" y2="221" stroke="#c8c8c8" stroke-width="0.8" />
<line x1="32" y1="241.6" x2="90.3" y2="221" stroke="#c8c8c8" stroke-width="0.8" />
<line x1="90.3" y1="221" x2="156.5" y2="239.5" stroke="#c8c8c8" stroke-width="0.8" />
<line x1="101.7" y1="164" x2="102" y2="272" stroke="#c8c8c8" stroke-width="0.8" />
<line x1="27.2" y1="155.1" x2="32" y2="241.6" stroke="#999" stroke-width="0.8" />
<line x1="158.3" y1="153.8" x2="156.5" y2="239.5" stroke="#999" stroke-width="0.8" />
<line x1="32" y1="241.6" x2="102" y2="272" stroke="#777" stroke-width="0.9" />
<line x1="102" y1="272" x2="156.5" y2="239.5" stroke="#777" stroke-width="0.9" />
<line x1="81.6" y1="199.9" x2="77.6" y2="164.4" stroke="#3333ee" stroke-width="0.9" />
<circle cx="77.6" cy="164.4" r="1.35" fill="#3333ee"/>
<line x1="81.6" y1="199.9" x2="52.5" y2="184.1" stroke="#3333ee" stroke-width="0.9" />
<circle cx="52.5" cy="184.1" r="1.35" fill="#3333ee"/>
<line x1="81.6" y1="199.9" x2="66.3" y2="203" stroke="#3333ee" stroke-width="0.9" />
<circle cx="66.3" cy="203" r="1.35" fill="#3333ee"/>
<line x1="81.6" y1="199.9" x2="90.1" y2="200.6" stroke="#3333ee" stroke-width="0.9" />
<circle cx="90.1" cy="200.6" r="1.35" fill="#3333ee"/>
<line x1="81.6" y1="199.9" x2="96.4" y2="202.6" stroke="#3333ee" stroke-width="0.9" />
<circle cx="96.4" cy="202.6" r="1.35" fill="#3333ee"/>
<line x1="81.6" y1="199.9" x2="78.9" y2="200.6" stroke="#3333ee" stroke-width="0.9" />
<circle cx="78.9" cy="200.6" r="1.35" fill="#3333ee"/>
<line x1="81.6" y1="199.9" x2="82.5" y2="200.3" stroke="#3333ee" stroke-width="0.9" />
<circle cx="82.5" cy="200.3" r="1.35" fill="#3333ee"/>
<line x1="81.6" y1="199.9" x2="124.8" y2="180.2" stroke="#3333ee" stroke-width="0.9" />
<circle cx="124.8" cy="180.2" r="1.35" fill="#3333ee"/>
<line x1="81.6" y1="199.9" x2="91.3" y2="251.1" stroke="#3333ee" stroke-width="0.9" />
<circle cx="91.3" cy="251.1" r="1.35" fill="#3333ee"/>
<circle cx="81.6" cy="199.9" r="1.3" fill="#22c"/>
<text x="78.1" y="162.8" font-size="8.4" text-anchor="middle" font-weight="normal" font-style="normal" fill="#000" >PC</text>
<text x="55.2" y="182.3" font-size="8.4" text-anchor="middle" font-weight="normal" font-style="normal" fill="#000" >PVC</text>
<text x="62.6" y="206.9" font-size="8.4" text-anchor="end" font-weight="normal" font-style="normal" fill="#000" >PMMA</text>
<text x="92.2" y="200.2" font-size="8.4" text-anchor="start" font-weight="normal" font-style="normal" fill="#000" >PC1</text>
<text x="97.6" y="211.2" font-size="8.4" text-anchor="start" font-weight="normal" font-style="normal" fill="#000" >PE</text>
<text x="72" y="208.9" font-size="8.4" text-anchor="start" font-weight="normal" font-style="normal" fill="#000" >PA</text>
<text x="84.5" y="204.5" font-size="8.4" text-anchor="start" font-weight="normal" font-style="normal" fill="#000" transform="rotate(62 84.5 204.5)" >PP</text>
<text x="128" y="183.9" font-size="8.4" text-anchor="start" font-weight="normal" font-style="normal" fill="#000" >PS</text>
<text x="90.7" y="260.5" font-size="8.4" text-anchor="start" font-weight="normal" font-style="normal" fill="#000" >PET</text>
<text x="16.2" y="157" font-size="18" text-anchor="start" font-weight="bold" font-style="normal" fill="#000" >d</text>
<text x="10.4" y="203.6" font-size="10.2" text-anchor="middle" font-weight="normal" font-style="normal" fill="#000" transform="rotate(90 10.4 203.6)" >PC 5 (9.00%)</text>
<text x="0" y="0" font-size="9.4" text-anchor="middle" transform="translate(23.9,167.70000000000002) skewY(-8)">4</text>
<text x="0" y="0" font-size="9.4" text-anchor="middle" transform="translate(23.9,184.9) skewY(-8)">2</text>
<text x="0" y="0" font-size="9.4" text-anchor="middle" transform="translate(23.9,201.6) skewY(-8)">0</text>
<text x="0" y="0" font-size="9.4" text-anchor="middle" transform="translate(23.3,217.70000000000002) skewY(-8)">-2</text>
<text x="0" y="0" font-size="9.4" text-anchor="middle" transform="translate(23.3,231.9) skewY(-8)">-4</text>
<text x="0" y="0" font-size="9.4" text-anchor="middle" transform="translate(26,247.9) skewY(-8)">-6</text>
<text x="0" y="0" font-size="8.8" font-style="italic" transform="translate(23.4,254.5) rotate(25.9)" textLength="58" lengthAdjust="spacingAndGlyphs">PC 3 (11.01%)</text>
<text x="0" y="0" font-size="9.2" transform="translate(128.2,277.2) rotate(-31.5) skewX(14)" textLength="48" lengthAdjust="spacingAndGlyphs">PC 4 (10.77%)</text>
<text x="0" y="0" font-size="7" font-style="italic" text-anchor="middle" transform="translate(36,249.5) rotate(25.9)">-5</text>
<text x="0" y="0" font-size="7" font-style="italic" text-anchor="middle" transform="translate(58.3,258) rotate(25.9)">0</text>
<text x="0" y="0" font-size="7" font-style="italic" text-anchor="middle" transform="translate(82,268) rotate(25.9)">5</text>
<text x="0" y="0" font-size="6.5" font-style="italic" text-anchor="middle" transform="translate(108.7,276) rotate(-58)">-4</text>
<text x="0" y="0" font-size="6.5" font-style="italic" text-anchor="middle" transform="translate(117.3,270.5) rotate(-58)">-2</text>
<text x="0" y="0" font-size="6.5" font-style="italic" text-anchor="middle" transform="translate(124,265) rotate(-58)">0</text>
<text x="0" y="0" font-size="6.5" font-style="italic" text-anchor="middle" transform="translate(131,260) rotate(-58)">2</text>
<text x="0" y="0" font-size="6.5" font-style="italic" text-anchor="middle" transform="translate(138.6,254.5) rotate(-58)">4</text>
<text x="0" y="0" font-size="6.5" font-style="italic" text-anchor="middle" transform="translate(146.5,249) rotate(-58)">6</text>
<text x="0" y="0" font-size="6.5" font-style="italic" text-anchor="middle" transform="translate(153.6,245) rotate(-58)">8</text>
<text x="0" y="0" font-size="6.5" font-style="italic" text-anchor="middle" transform="translate(161.5,242.5) rotate(-58)">10</text>
</g>
<g id="pe">
<defs><linearGradient id="g1" gradientUnits="userSpaceOnUse" x1="203.27" y1="154.16" x2="197.3" y2="160.4"><stop offset="0" stop-color="#00e9f7"/><stop offset="0.1" stop-color="#00ffbe"/><stop offset="0.24" stop-color="#00ff3c"/><stop offset="0.38" stop-color="#3cff00"/><stop offset="0.51" stop-color="#b4ff00"/><stop offset="0.61" stop-color="#ffff00"/><stop offset="0.67" stop-color="#ffd200"/><stop offset="0.79" stop-color="#ff8c00"/><stop offset="0.9" stop-color="#ff3200"/><stop offset="1" stop-color="#fa0000"/></linearGradient><linearGradient id="g2" gradientUnits="userSpaceOnUse" x1="191.33" y1="166.64" x2="197.3" y2="160.4"><stop offset="0" stop-color="#00e9f7"/><stop offset="0.1" stop-color="#00ffbe"/><stop offset="0.24" stop-color="#00ff3c"/><stop offset="0.38" stop-color="#3cff00"/><stop offset="0.51" stop-color="#b4ff00"/><stop offset="0.61" stop-color="#ffff00"/><stop offset="0.67" stop-color="#ffd200"/><stop offset="0.79" stop-color="#ff8c00"/><stop offset="0.9" stop-color="#ff3200"/><stop offset="1" stop-color="#fa0000"/></linearGradient><linearGradient id="g3" gradientUnits="userSpaceOnUse" x1="218.59" y1="154.71" x2="209.79" y2="160.4"><stop offset="0" stop-color="#0023f9"/><stop offset="0.24" stop-color="#003cff"/><stop offset="0.62" stop-color="#0096ff"/><stop offset="0.95" stop-color="#00e6ff"/><stop offset="1" stop-color="#00e9f7"/></linearGradient><linearGradient id="g4" gradientUnits="userSpaceOnUse" x1="210.45" y1="159.78" x2="203.82" y2="166.01"><stop offset="0" stop-color="#0096ff"/><stop offset="0.09" stop-color="#00e6ff"/><stop offset="0.19" stop-color="#00ffbe"/><stop offset="0.31" stop-color="#00ff3c"/><stop offset="0.44" stop-color="#3cff00"/><stop offset="0.56" stop-color="#b4ff00"/><stop offset="0.65" stop-color="#ffff00"/><stop offset="0.7" stop-color="#ffd200"/><stop offset="0.81" stop-color="#ff8c00"/><stop offset="0.91" stop-color="#ff3200"/><stop offset="1" stop-color="#fa0000"/></linearGradient><linearGradient id="g5" gradientUnits="userSpaceOnUse" x1="222.28" y1="160.4" x2="228.47" y2="154.16"><stop offset="0" stop-color="#0023f9"/><stop offset="0.06" stop-color="#003cff"/><stop offset="0.16" stop-color="#0096ff"/><stop offset="0.24" stop-color="#00e6ff"/><stop offset="0.34" stop-color="#00ffbe"/><stop offset="0.46" stop-color="#00ff3c"/><stop offset="0.58" stop-color="#3cff00"/><stop offset="0.7" stop-color="#b4ff00"/><stop offset="0.78" stop-color="#ffff00"/><stop offset="0.83" stop-color="#ffd200"/><stop offset="0.94" stop-color="#ff8c00"/><stop offset="1" stop-color="#ff5400"/></linearGradient><linearGradient id="g6" gradientUnits="userSpaceOnUse" x1="222.28" y1="160.4" x2="216.57" y2="168.15"><stop offset="0" stop-color="#0023f9"/><stop offset="0.38" stop-color="#003cff"/><stop offset="1" stop-color="#0096ff"/></linearGradient><linearGradient id="g7" gradientUnits="userSpaceOnUse" x1="249.64" y1="166.68" x2="234.76" y2="160.4"><stop offset="0" stop-color="#0074ff"/><stop offset="0.04" stop-color="#0096ff"/><stop offset="0.14" stop-color="#00e6ff"/><stop offset="0.25" stop-color="#00ffbe"/><stop offset="0.38" stop-color="#00ff3c"/><stop offset="0.52" stop-color="#3cff00"/><stop offset="0.66" stop-color="#b4ff00"/><stop offset="0.75" stop-color="#ffff00"/><stop offset="0.81" stop-color="#ffd200"/><stop offset="0.93" stop-color="#ff8c00"/><stop offset="1" stop-color="#ff5400"/></linearGradient><linearGradient id="g8" gradientUnits="userSpaceOnUse" x1="233.77" y1="172.27" x2="234.76" y2="160.4"><stop offset="0" stop-color="#0032fc"/><stop offset="0.02" stop-color="#003cff"/><stop offset="0.12" stop-color="#0096ff"/><stop offset="0.21" stop-color="#00e6ff"/><stop offset="0.31" stop-color="#00ffbe"/><stop offset="0.44" stop-color="#00ff3c"/><stop offset="0.56" stop-color="#3cff00"/><stop offset="0.69" stop-color="#b4ff00"/><stop offset="0.77" stop-color="#ffff00"/><stop offset="0.82" stop-color="#ffd200"/><stop offset="0.94" stop-color="#ff8c00"/><stop offset="1" stop-color="#ff5400"/></linearGradient><linearGradient id="g9" gradientUnits="userSpaceOnUse" x1="245.6" y1="162.86" x2="251.13" y2="154.62"><stop offset="0" stop-color="#007fff"/><stop offset="0.03" stop-color="#0096ff"/><stop offset="0.13" stop-color="#00e6ff"/><stop offset="0.25" stop-color="#00ffbe"/><stop offset="0.4" stop-color="#00ff3c"/><stop offset="0.55" stop-color="#3cff00"/><stop offset="0.7" stop-color="#b4ff00"/><stop offset="0.81" stop-color="#ffff00"/><stop offset="0.87" stop-color="#ffd200"/><stop offset="1" stop-color="#ff8c00"/></linearGradient><linearGradient id="g10" gradientUnits="userSpaceOnUse" x1="246.71" y1="172.33" x2="247.25" y2="160.4"><stop offset="0" stop-color="#0074ff"/><stop offset="0.14" stop-color="#0096ff"/><stop offset="0.48" stop-color="#00e6ff"/><stop offset="0.86" stop-color="#00ffbe"/><stop offset="1" stop-color="#00ff97"/></linearGradient><linearGradient id="g11" gradientUnits="userSpaceOnUse" x1="260.73" y1="173.24" x2="259.74" y2="160.4"><stop offset="0" stop-color="#007fff"/><stop offset="0.03" stop-color="#0096ff"/><stop offset="0.13" stop-color="#00e6ff"/><stop offset="0.25" stop-color="#00ffbe"/><stop offset="0.4" stop-color="#00ff3c"/><stop offset="0.55" stop-color="#3cff00"/><stop offset="0.7" stop-color="#b4ff00"/><stop offset="0.81" stop-color="#ffff00"/><stop offset="0.87" stop-color="#ffd200"/><stop offset="1" stop-color="#ff8c00"/></linearGradient><linearGradient id="g12" gradientUnits="userSpaceOnUse" x1="259.74" y1="172.35" x2="259.74" y2="160.4"><stop offset="0" stop-color="#007fff"/><stop offset="0.03" stop-color="#0096ff"/><stop offset="0.13" stop-color="#00e6ff"/><stop offset="0.25" stop-color="#00ffbe"/><stop offset="0.4" stop-color="#00ff3c"/><stop offset="0.55" stop-color="#3cff00"/><stop offset="0.7" stop-color="#b4ff00"/><stop offset="0.81" stop-color="#ffff00"/><stop offset="0.87" stop-color="#ffd200"/><stop offset="1" stop-color="#ff8c00"/></linearGradient><linearGradient id="g13" gradientUnits="userSpaceOnUse" x1="286.94" y1="168.09" x2="272.23" y2="160.4"><stop offset="0" stop-color="#0074ff"/><stop offset="0.05" stop-color="#0096ff"/><stop offset="0.16" stop-color="#00e6ff"/><stop offset="0.29" stop-color="#00ffbe"/><stop offset="0.44" stop-color="#00ff3c"/><stop offset="0.6" stop-color="#3cff00"/><stop offset="0.76" stop-color="#b4ff00"/><stop offset="0.87" stop-color="#ffff00"/><stop offset="0.94" stop-color="#ffd200"/><stop offset="1" stop-color="#ffb300"/></linearGradient><linearGradient id="g14" gradientUnits="userSpaceOnUse" x1="272.41" y1="172.54" x2="272.23" y2="160.4"><stop offset="0" stop-color="#0074ff"/><stop offset="0.05" stop-color="#0096ff"/><stop offset="0.16" stop-color="#00e6ff"/><stop offset="0.29" stop-color="#00ffbe"/><stop offset="0.44" stop-color="#00ff3c"/><stop offset="0.6" stop-color="#3cff00"/><stop offset="0.76" stop-color="#b4ff00"/><stop offset="0.87" stop-color="#ffff00"/><stop offset="0.94" stop-color="#ffd200"/><stop offset="1" stop-color="#ffb300"/></linearGradient><linearGradient id="g15" gradientUnits="userSpaceOnUse" x1="296.89" y1="158.47" x2="284.71" y2="160.4"><stop offset="0" stop-color="#0019f6"/><stop offset="0.21" stop-color="#003cff"/><stop offset="0.45" stop-color="#0096ff"/><stop offset="0.67" stop-color="#00e6ff"/><stop offset="0.91" stop-color="#00ffbe"/><stop offset="1" stop-color="#00ff97"/></linearGradient><linearGradient id="g16" gradientUnits="userSpaceOnUse" x1="289.33" y1="174.86" x2="284.71" y2="160.4"><stop offset="0" stop-color="#0032fc"/><stop offset="0.07" stop-color="#003cff"/><stop offset="0.36" stop-color="#0096ff"/><stop offset="0.61" stop-color="#00e6ff"/><stop offset="0.89" stop-color="#00ffbe"/><stop offset="1" stop-color="#00ff97"/></linearGradient><linearGradient id="g17" gradientUnits="userSpaceOnUse" x1="196.71" y1="173.04" x2="202.62" y2="166.18"><stop offset="0" stop-color="#0096ff"/><stop offset="0.09" stop-color="#00e6ff"/><stop offset="0.19" stop-color="#00ffbe"/><stop offset="0.31" stop-color="#00ff3c"/><stop offset="0.44" stop-color="#3cff00"/><stop offset="0.56" stop-color="#b4ff00"/><stop offset="0.65" stop-color="#ffff00"/><stop offset="0.7" stop-color="#ffd200"/><stop offset="0.81" stop-color="#ff8c00"/><stop offset="0.91" stop-color="#ff3200"/><stop offset="1" stop-color="#fa0000"/></linearGradient><linearGradient id="g18" gradientUnits="userSpaceOnUse" x1="192.06" y1="181.2" x2="197.3" y2="172.35"><stop offset="0" stop-color="#0023f9"/><stop offset="0.24" stop-color="#003cff"/><stop offset="0.62" stop-color="#0096ff"/><stop offset="0.95" stop-color="#00e6ff"/><stop offset="1" stop-color="#00e9f7"/></linearGradient><linearGradient id="g19" gradientUnits="userSpaceOnUse" x1="215.76" y1="166.11" x2="209.79" y2="172.35"><stop offset="0" stop-color="#0096ff"/><stop offset="0.09" stop-color="#00e6ff"/><stop offset="0.19" stop-color="#00ffbe"/><stop offset="0.31" stop-color="#00ff3c"/><stop offset="0.44" stop-color="#3cff00"/><stop offset="0.56" stop-color="#b4ff00"/><stop offset="0.65" stop-color="#ffff00"/><stop offset="0.7" stop-color="#ffd200"/><stop offset="0.81" stop-color="#ff8c00"/><stop offset="0.91" stop-color="#ff3200"/><stop offset="1" stop-color="#fa0000"/></linearGradient><linearGradient id="g20" gradientUnits="userSpaceOnUse" x1="203.82" y1="178.59" x2="209.79" y2="172.35"><stop offset="0" stop-color="#0096ff"/><stop offset="0.09" stop-color="#00e6ff"/><stop offset="0.19" stop-color="#00ffbe"/><stop offset="0.31" stop-color="#00ff3c"/><stop offset="0.44" stop-color="#3cff00"/><stop offset="0.56" stop-color="#b4ff00"/><stop offset="0.65" stop-color="#ffff00"/><stop offset="0.7" stop-color="#ffd200"/><stop offset="0.81" stop-color="#ff8c00"/><stop offset="0.91" stop-color="#ff3200"/><stop offset="1" stop-color="#fa0000"/></linearGradient><linearGradient id="g21" gradientUnits="userSpaceOnUse" x1="234.24" y1="169.85" x2="222.28" y2="172.35"><stop offset="0" stop-color="#0032fc"/><stop offset="0.2" stop-color="#003cff"/><stop offset="1" stop-color="#0096ff"/></linearGradient><linearGradient id="g22" gradientUnits="userSpaceOnUse" x1="222.87" y1="171.78" x2="216.31" y2="178.02"><stop offset="0" stop-color="#003cff"/><stop offset="0.09" stop-color="#0096ff"/><stop offset="0.17" stop-color="#00e6ff"/><stop offset="0.26" stop-color="#00ffbe"/><stop offset="0.38" stop-color="#00ff3c"/><stop offset="0.49" stop-color="#3cff00"/><stop offset="0.6" stop-color="#b4ff00"/><stop offset="0.68" stop-color="#ffff00"/><stop offset="0.73" stop-color="#ffd200"/><stop offset="0.83" stop-color="#ff8c00"/><stop offset="0.92" stop-color="#ff3200"/><stop offset="1" stop-color="#fa0000"/></linearGradient><linearGradient id="g23" gradientUnits="userSpaceOnUse" x1="233.49" y1="174.06" x2="239.21" y2="166.37"><stop offset="0" stop-color="#0028fa"/><stop offset="0.44" stop-color="#003cff"/><stop offset="1" stop-color="#0074ff"/></linearGradient><linearGradient id="g24" gradientUnits="userSpaceOnUse" x1="239.67" y1="169.79" x2="229.86" y2="174.91"><stop offset="0" stop-color="#0028fa"/><stop offset="1" stop-color="#003cff"/></linearGradient><linearGradient id="g25" gradientUnits="userSpaceOnUse" x1="246.44" y1="183.32" x2="247.32" y2="171.44"><stop offset="0" stop-color="#0019f6"/><stop offset="0.54" stop-color="#003cff"/><stop offset="1" stop-color="#007fff"/></linearGradient><linearGradient id="g26" gradientUnits="userSpaceOnUse" x1="251.86" y1="186.81" x2="247.25" y2="172.35"><stop offset="0" stop-color="#0019f6"/><stop offset="0.58" stop-color="#003cff"/><stop offset="1" stop-color="#0074ff"/></linearGradient><linearGradient id="g27" gradientUnits="userSpaceOnUse" x1="259.74" y1="184.3" x2="259.74" y2="172.35"><stop offset="0" stop-color="#0019f6"/><stop offset="0.54" stop-color="#003cff"/><stop offset="1" stop-color="#007fff"/></linearGradient><linearGradient id="g28" gradientUnits="userSpaceOnUse" x1="259.74" y1="184.3" x2="259.74" y2="172.35"><stop offset="0" stop-color="#0019f6"/><stop offset="0.54" stop-color="#003cff"/><stop offset="1" stop-color="#007fff"/></linearGradient><linearGradient id="g29" gradientUnits="userSpaceOnUse" x1="273.35" y1="185.29" x2="272.23" y2="172.35"><stop offset="0" stop-color="#001ef8"/><stop offset="0.5" stop-color="#003cff"/><stop offset="1" stop-color="#007fff"/></linearGradient><linearGradient id="g30" gradientUnits="userSpaceOnUse" x1="271.35" y1="184.24" x2="272.23" y2="172.35"><stop offset="0" stop-color="#0019f6"/><stop offset="0.54" stop-color="#003cff"/><stop offset="1" stop-color="#007fff"/></linearGradient><linearGradient id="g31" gradientUnits="userSpaceOnUse" x1="298.46" y1="182.61" x2="284.71" y2="172.35"><stop offset="0" stop-color="#0019f6"/><stop offset="0.58" stop-color="#003cff"/><stop offset="1" stop-color="#0074ff"/></linearGradient><linearGradient id="g32" gradientUnits="userSpaceOnUse" x1="285.84" y1="185.29" x2="284.71" y2="172.35"><stop offset="0" stop-color="#0019f6"/><stop offset="0.58" stop-color="#003cff"/><stop offset="1" stop-color="#0074ff"/></linearGradient><linearGradient id="g33" gradientUnits="userSpaceOnUse" x1="197.3" y1="184.3" x2="204.89" y2="178.2"><stop offset="0" stop-color="#0023f9"/><stop offset="0.38" stop-color="#003cff"/><stop offset="1" stop-color="#0096ff"/></linearGradient><linearGradient id="g34" gradientUnits="userSpaceOnUse" x1="197.3" y1="184.3" x2="191.34" y2="190.76"><stop offset="0" stop-color="#0023f9"/><stop offset="0.06" stop-color="#003cff"/><stop offset="0.16" stop-color="#0096ff"/><stop offset="0.24" stop-color="#00e6ff"/><stop offset="0.34" stop-color="#00ffbe"/><stop offset="0.46" stop-color="#00ff3c"/><stop offset="0.58" stop-color="#3cff00"/><stop offset="0.7" stop-color="#b4ff00"/><stop offset="0.78" stop-color="#ffff00"/><stop offset="0.83" stop-color="#ffd200"/><stop offset="0.94" stop-color="#ff8c00"/><stop offset="1" stop-color="#ff5400"/></linearGradient><linearGradient id="g35" gradientUnits="userSpaceOnUse" x1="209.25" y1="184.92" x2="215.17" y2="178.12"><stop offset="0" stop-color="#003cff"/><stop offset="0.09" stop-color="#0096ff"/><stop offset="0.17" stop-color="#00e6ff"/><stop offset="0.26" stop-color="#00ffbe"/><stop offset="0.38" stop-color="#00ff3c"/><stop offset="0.49" stop-color="#3cff00"/><stop offset="0.6" stop-color="#b4ff00"/><stop offset="0.68" stop-color="#ffff00"/><stop offset="0.73" stop-color="#ffd200"/><stop offset="0.83" stop-color="#ff8c00"/><stop offset="0.92" stop-color="#ff3200"/><stop offset="1" stop-color="#fa0000"/></linearGradient><linearGradient id="g36" gradientUnits="userSpaceOnUse" x1="207.58" y1="195.83" x2="209.79" y2="184.3"><stop offset="0" stop-color="#0032fc"/><stop offset="0.2" stop-color="#003cff"/><stop offset="1" stop-color="#0096ff"/></linearGradient><linearGradient id="g37" gradientUnits="userSpaceOnUse" x1="228.24" y1="178.06" x2="222.28" y2="184.3"><stop offset="0" stop-color="#003cff"/><stop offset="0.09" stop-color="#0096ff"/><stop offset="0.17" stop-color="#00e6ff"/><stop offset="0.26" stop-color="#00ffbe"/><stop offset="0.38" stop-color="#00ff3c"/><stop offset="0.49" stop-color="#3cff00"/><stop offset="0.6" stop-color="#b4ff00"/><stop offset="0.68" stop-color="#ffff00"/><stop offset="0.73" stop-color="#ffd200"/><stop offset="0.83" stop-color="#ff8c00"/><stop offset="0.92" stop-color="#ff3200"/><stop offset="1" stop-color="#fa0000"/></linearGradient><linearGradient id="g38" gradientUnits="userSpaceOnUse" x1="216.31" y1="190.54" x2="222.28" y2="184.3"><stop offset="0" stop-color="#003cff"/><stop offset="0.09" stop-color="#0096ff"/><stop offset="0.17" stop-color="#00e6ff"/><stop offset="0.26" stop-color="#00ffbe"/><stop offset="0.38" stop-color="#00ff3c"/><stop offset="0.49" stop-color="#3cff00"/><stop offset="0.6" stop-color="#b4ff00"/><stop offset="0.68" stop-color="#ffff00"/><stop offset="0.73" stop-color="#ffd200"/><stop offset="0.83" stop-color="#ff8c00"/><stop offset="0.92" stop-color="#ff3200"/><stop offset="1" stop-color="#fa0000"/></linearGradient><linearGradient id="g39" gradientUnits="userSpaceOnUse" x1="235.13" y1="182.19" x2="233.11" y2="193.79"><stop offset="0" stop-color="#0028fa"/><stop offset="0.18" stop-color="#003cff"/><stop offset="0.55" stop-color="#0096ff"/><stop offset="0.86" stop-color="#00e6ff"/><stop offset="1" stop-color="#00efe7"/></linearGradient><linearGradient id="g40" gradientUnits="userSpaceOnUse" x1="234.76" y1="184.3" x2="229" y2="191.87"><stop offset="0" stop-color="#003cff"/><stop offset="0.09" stop-color="#0096ff"/><stop offset="0.17" stop-color="#00e6ff"/><stop offset="0.26" stop-color="#00ffbe"/><stop offset="0.38" stop-color="#00ff3c"/><stop offset="0.49" stop-color="#3cff00"/><stop offset="0.6" stop-color="#b4ff00"/><stop offset="0.68" stop-color="#ffff00"/><stop offset="0.73" stop-color="#ffd200"/><stop offset="0.83" stop-color="#ff8c00"/><stop offset="0.92" stop-color="#ff3200"/><stop offset="1" stop-color="#fa0000"/></linearGradient><linearGradient id="g41" gradientUnits="userSpaceOnUse" x1="247.27" y1="183.8" x2="246.79" y2="195.73"><stop offset="0" stop-color="#0019f6"/><stop offset="0.1" stop-color="#003cff"/><stop offset="0.21" stop-color="#0096ff"/><stop offset="0.31" stop-color="#00e6ff"/><stop offset="0.42" stop-color="#00ffbe"/><stop offset="0.56" stop-color="#00ff3c"/><stop offset="0.7" stop-color="#3cff00"/><stop offset="0.85" stop-color="#b4ff00"/><stop offset="0.94" stop-color="#ffff00"/><stop offset="1" stop-color="#ffd200"/></linearGradient><linearGradient id="g42" gradientUnits="userSpaceOnUse" x1="247.25" y1="184.3" x2="262.02" y2="191.68"><stop offset="0" stop-color="#0028fa"/><stop offset="0.06" stop-color="#003cff"/><stop offset="0.18" stop-color="#0096ff"/><stop offset="0.28" stop-color="#00e6ff"/><stop offset="0.4" stop-color="#00ffbe"/><stop offset="0.54" stop-color="#00ff3c"/><stop offset="0.69" stop-color="#3cff00"/><stop offset="0.84" stop-color="#b4ff00"/><stop offset="0.94" stop-color="#ffff00"/><stop offset="1" stop-color="#ffd200"/></linearGradient><linearGradient id="g43" gradientUnits="userSpaceOnUse" x1="259.74" y1="184.3" x2="259.74" y2="196.25"><stop offset="0" stop-color="#0019f6"/><stop offset="0.1" stop-color="#003cff"/><stop offset="0.21" stop-color="#0096ff"/><stop offset="0.31" stop-color="#00e6ff"/><stop offset="0.43" stop-color="#00ffbe"/><stop offset="0.57" stop-color="#00ff3c"/><stop offset="0.71" stop-color="#3cff00"/><stop offset="0.86" stop-color="#b4ff00"/><stop offset="0.96" stop-color="#ffff00"/><stop offset="1" stop-color="#ffdd00"/></linearGradient><linearGradient id="g44" gradientUnits="userSpaceOnUse" x1="259.74" y1="184.3" x2="259.58" y2="196.25"><stop offset="0" stop-color="#0019f6"/><stop offset="0.1" stop-color="#003cff"/><stop offset="0.21" stop-color="#0096ff"/><stop offset="0.31" stop-color="#00e6ff"/><stop offset="0.42" stop-color="#00ffbe"/><stop offset="0.56" stop-color="#00ff3c"/><stop offset="0.7" stop-color="#3cff00"/><stop offset="0.85" stop-color="#b4ff00"/><stop offset="0.94" stop-color="#ffff00"/><stop offset="1" stop-color="#ffd200"/></linearGradient><linearGradient id="g45" gradientUnits="userSpaceOnUse" x1="272.23" y1="184.3" x2="272.5" y2="196.53"><stop offset="0" stop-color="#0019f6"/><stop offset="0.16" stop-color="#003cff"/><stop offset="0.35" stop-color="#0096ff"/><stop offset="0.51" stop-color="#00e6ff"/><stop offset="0.7" stop-color="#00ffbe"/><stop offset="0.93" stop-color="#00ff3c"/><stop offset="1" stop-color="#12ff2a"/></linearGradient><linearGradient id="g46" gradientUnits="userSpaceOnUse" x1="272.23" y1="184.3" x2="268.34" y2="194.82"><stop offset="0" stop-color="#0019f6"/><stop offset="0.1" stop-color="#003cff"/><stop offset="0.21" stop-color="#0096ff"/><stop offset="0.31" stop-color="#00e6ff"/><stop offset="0.43" stop-color="#00ffbe"/><stop offset="0.57" stop-color="#00ff3c"/><stop offset="0.71" stop-color="#3cff00"/><stop offset="0.86" stop-color="#b4ff00"/><stop offset="0.96" stop-color="#ffff00"/><stop offset="1" stop-color="#ffdd00"/></linearGradient><linearGradient id="g47" gradientUnits="userSpaceOnUse" x1="285.15" y1="181.99" x2="282.95" y2="193.52"><stop offset="0" stop-color="#0019f6"/><stop offset="1" stop-color="#0032fc"/></linearGradient><linearGradient id="g48" gradientUnits="userSpaceOnUse" x1="284.71" y1="184.3" x2="278.8" y2="191.13"><stop offset="0" stop-color="#001ef8"/><stop offset="0.14" stop-color="#003cff"/><stop offset="0.33" stop-color="#0096ff"/><stop offset="0.5" stop-color="#00e6ff"/><stop offset="0.69" stop-color="#00ffbe"/><stop offset="0.93" stop-color="#00ff3c"/><stop offset="1" stop-color="#12ff2a"/></linearGradient><linearGradient id="g49" gradientUnits="userSpaceOnUse" x1="210.09" y1="196.58" x2="197.3" y2="196.25"><stop offset="0" stop-color="#0028fa"/><stop offset="0.05" stop-color="#003cff"/><stop offset="0.15" stop-color="#0096ff"/><stop offset="0.23" stop-color="#00e6ff"/><stop offset="0.33" stop-color="#00ffbe"/><stop offset="0.45" stop-color="#00ff3c"/><stop offset="0.57" stop-color="#3cff00"/><stop offset="0.7" stop-color="#b4ff00"/><stop offset="0.78" stop-color="#ffff00"/><stop offset="0.83" stop-color="#ffd200"/><stop offset="0.94" stop-color="#ff8c00"/><stop offset="1" stop-color="#ff5400"/></linearGradient><linearGradient id="g50" gradientUnits="userSpaceOnUse" x1="205.27" y1="210.69" x2="197.3" y2="196.25"><stop offset="0" stop-color="#0028fa"/><stop offset="0.05" stop-color="#003cff"/><stop offset="0.15" stop-color="#0096ff"/><stop offset="0.23" stop-color="#00e6ff"/><stop offset="0.33" stop-color="#00ffbe"/><stop offset="0.45" stop-color="#00ff3c"/><stop offset="0.57" stop-color="#3cff00"/><stop offset="0.7" stop-color="#b4ff00"/><stop offset="0.78" stop-color="#ffff00"/><stop offset="0.83" stop-color="#ffd200"/><stop offset="0.94" stop-color="#ff8c00"/><stop offset="1" stop-color="#ff5400"/></linearGradient><linearGradient id="g51" gradientUnits="userSpaceOnUse" x1="209.79" y1="196.25" x2="222.28" y2="196.25"><stop offset="0" stop-color="#0032fc"/><stop offset="1" stop-color="#003cff"/></linearGradient><linearGradient id="g52" gradientUnits="userSpaceOnUse" x1="204.88" y1="198.81" x2="214.69" y2="193.69"><stop offset="0" stop-color="#0028fa"/><stop offset="1" stop-color="#003cff"/></linearGradient><linearGradient id="g53" gradientUnits="userSpaceOnUse" x1="222.28" y1="196.25" x2="229.66" y2="190.11"><stop offset="0" stop-color="#003cff"/><stop offset="0.09" stop-color="#0096ff"/><stop offset="0.17" stop-color="#00e6ff"/><stop offset="0.26" stop-color="#00ffbe"/><stop offset="0.38" stop-color="#00ff3c"/><stop offset="0.49" stop-color="#3cff00"/><stop offset="0.6" stop-color="#b4ff00"/><stop offset="0.68" stop-color="#ffff00"/><stop offset="0.73" stop-color="#ffd200"/><stop offset="0.83" stop-color="#ff8c00"/><stop offset="0.92" stop-color="#ff3200"/><stop offset="1" stop-color="#fa0000"/></linearGradient><linearGradient id="g54" gradientUnits="userSpaceOnUse" x1="222.28" y1="196.25" x2="234.76" y2="196.25"><stop offset="0" stop-color="#003cff"/><stop offset="0.44" stop-color="#0096ff"/><stop offset="0.83" stop-color="#00e6ff"/><stop offset="1" stop-color="#00efe7"/></linearGradient><linearGradient id="g55" gradientUnits="userSpaceOnUse" x1="240.73" y1="190.01" x2="234.76" y2="196.25"><stop offset="0" stop-color="#00efe7"/><stop offset="0.07" stop-color="#00ffbe"/><stop offset="0.21" stop-color="#00ff3c"/><stop offset="0.36" stop-color="#3cff00"/><stop offset="0.5" stop-color="#b4ff00"/><stop offset="0.6" stop-color="#ffff00"/><stop offset="0.66" stop-color="#ffd200"/><stop offset="0.79" stop-color="#ff8c00"/><stop offset="0.9" stop-color="#ff3200"/><stop offset="1" stop-color="#fa0000"/></linearGradient><linearGradient id="g56" gradientUnits="userSpaceOnUse" x1="228.79" y1="202.49" x2="234.76" y2="196.25"><stop offset="0" stop-color="#00efe7"/><stop offset="0.07" stop-color="#00ffbe"/><stop offset="0.21" stop-color="#00ff3c"/><stop offset="0.36" stop-color="#3cff00"/><stop offset="0.5" stop-color="#b4ff00"/><stop offset="0.6" stop-color="#ffff00"/><stop offset="0.66" stop-color="#ffd200"/><stop offset="0.79" stop-color="#ff8c00"/><stop offset="0.9" stop-color="#ff3200"/><stop offset="1" stop-color="#fa0000"/></linearGradient><linearGradient id="g57" gradientUnits="userSpaceOnUse" x1="247.25" y1="196.25" x2="252.64" y2="204.81"><stop offset="0" stop-color="#00efe7"/><stop offset="0.07" stop-color="#00ffbe"/><stop offset="0.21" stop-color="#00ff3c"/><stop offset="0.36" stop-color="#3cff00"/><stop offset="0.5" stop-color="#b4ff00"/><stop offset="0.6" stop-color="#ffff00"/><stop offset="0.66" stop-color="#ffd200"/><stop offset="0.79" stop-color="#ff8c00"/><stop offset="0.9" stop-color="#ff3200"/><stop offset="1" stop-color="#fa0000"/></linearGradient><linearGradient id="g58" gradientUnits="userSpaceOnUse" x1="259.74" y1="208.2" x2="250.1" y2="202.96"><stop offset="0" stop-color="#1eff1e"/><stop offset="0.1" stop-color="#3cff00"/><stop offset="0.3" stop-color="#b4ff00"/><stop offset="0.44" stop-color="#ffff00"/><stop offset="0.52" stop-color="#ffd200"/><stop offset="0.7" stop-color="#ff8c00"/><stop offset="0.86" stop-color="#ff3200"/><stop offset="1" stop-color="#fa0000"/></linearGradient><linearGradient id="g59" gradientUnits="userSpaceOnUse" x1="260.18" y1="208.63" x2="259.74" y2="196.25"><stop offset="0" stop-color="#12ff2a"/><stop offset="0.25" stop-color="#3cff00"/><stop offset="0.61" stop-color="#b4ff00"/><stop offset="0.86" stop-color="#ffff00"/><stop offset="1" stop-color="#ffd200"/></linearGradient><linearGradient id="g60" gradientUnits="userSpaceOnUse" x1="260.68" y1="209.05" x2="259.74" y2="196.25"><stop offset="0" stop-color="#12ff2a"/><stop offset="0.25" stop-color="#3cff00"/><stop offset="0.61" stop-color="#b4ff00"/><stop offset="0.86" stop-color="#ffff00"/><stop offset="1" stop-color="#ffd200"/></linearGradient><linearGradient id="g61" gradientUnits="userSpaceOnUse" x1="285.92" y1="197.84" x2="272.23" y2="196.25"><stop offset="0" stop-color="#00ff3c"/><stop offset="0.33" stop-color="#3cff00"/><stop offset="0.67" stop-color="#b4ff00"/><stop offset="0.9" stop-color="#ffff00"/><stop offset="1" stop-color="#ffdd00"/></linearGradient><linearGradient id="g62" gradientUnits="userSpaceOnUse" x1="273.62" y1="209.38" x2="272.23" y2="196.25"><stop offset="0" stop-color="#00ff3c"/><stop offset="0.33" stop-color="#3cff00"/><stop offset="0.67" stop-color="#b4ff00"/><stop offset="0.9" stop-color="#ffff00"/><stop offset="1" stop-color="#ffdd00"/></linearGradient><linearGradient id="g63" gradientUnits="userSpaceOnUse" x1="297.16" y1="195.57" x2="284.71" y2="196.25"><stop offset="0" stop-color="#0032fc"/><stop offset="0.05" stop-color="#003cff"/><stop offset="0.26" stop-color="#0096ff"/><stop offset="0.45" stop-color="#00e6ff"/><stop offset="0.66" stop-color="#00ffbe"/><stop offset="0.92" stop-color="#00ff3c"/><stop offset="1" stop-color="#12ff2a"/></linearGradient><linearGradient id="g64" gradientUnits="userSpaceOnUse" x1="298.21" y1="197.53" x2="284.71" y2="196.25"><stop offset="0" stop-color="#003cff"/><stop offset="0.22" stop-color="#0096ff"/><stop offset="0.42" stop-color="#00e6ff"/><stop offset="0.64" stop-color="#00ffbe"/><stop offset="0.92" stop-color="#00ff3c"/><stop offset="1" stop-color="#12ff2a"/></linearGradient><linearGradient id="g65" gradientUnits="userSpaceOnUse" x1="209.79" y1="208.2" x2="197.3" y2="208.2"><stop offset="0" stop-color="#0028fa"/><stop offset="0.13" stop-color="#003cff"/><stop offset="0.4" stop-color="#0096ff"/><stop offset="0.63" stop-color="#00e6ff"/><stop offset="0.9" stop-color="#00ffbe"/><stop offset="1" stop-color="#00ff97"/></linearGradient><linearGradient id="g66" gradientUnits="userSpaceOnUse" x1="200.76" y1="205.99" x2="191.88" y2="211.66"><stop offset="0" stop-color="#0028fa"/><stop offset="0.05" stop-color="#003cff"/><stop offset="0.16" stop-color="#0096ff"/><stop offset="0.25" stop-color="#00e6ff"/><stop offset="0.35" stop-color="#00ffbe"/><stop offset="0.48" stop-color="#00ff3c"/><stop offset="0.61" stop-color="#3cff00"/><stop offset="0.74" stop-color="#b4ff00"/><stop offset="0.83" stop-color="#ffff00"/><stop offset="0.88" stop-color="#ffd200"/><stop offset="1" stop-color="#ff8c00"/></linearGradient><linearGradient id="g67" gradientUnits="userSpaceOnUse" x1="209.79" y1="208.2" x2="222.28" y2="208.2"><stop offset="0" stop-color="#0028fa"/><stop offset="1" stop-color="#003cff"/></linearGradient><linearGradient id="g68" gradientUnits="userSpaceOnUse" x1="209.79" y1="208.2" x2="222.28" y2="208.2"><stop offset="0" stop-color="#0028fa"/><stop offset="1" stop-color="#003cff"/></linearGradient><linearGradient id="g69" gradientUnits="userSpaceOnUse" x1="222.28" y1="208.2" x2="227.74" y2="222.78"><stop offset="0" stop-color="#003cff"/><stop offset="0.13" stop-color="#0096ff"/><stop offset="0.23" stop-color="#00e6ff"/><stop offset="0.36" stop-color="#00ffbe"/><stop offset="0.52" stop-color="#00ff3c"/><stop offset="0.67" stop-color="#3cff00"/><stop offset="0.83" stop-color="#b4ff00"/><stop offset="0.94" stop-color="#ffff00"/><stop offset="1" stop-color="#ffd200"/></linearGradient><linearGradient id="g70" gradientUnits="userSpaceOnUse" x1="222.28" y1="208.2" x2="234.76" y2="208.2"><stop offset="0" stop-color="#003cff"/><stop offset="0.13" stop-color="#0096ff"/><stop offset="0.23" stop-color="#00e6ff"/><stop offset="0.36" stop-color="#00ffbe"/><stop offset="0.52" stop-color="#00ff3c"/><stop offset="0.67" stop-color="#3cff00"/><stop offset="0.83" stop-color="#b4ff00"/><stop offset="0.94" stop-color="#ffff00"/><stop offset="1" stop-color="#ffd200"/></linearGradient><linearGradient id="g71" gradientUnits="userSpaceOnUse" x1="234.76" y1="208.2" x2="243.25" y2="214.03"><stop offset="0" stop-color="#00efe7"/><stop offset="0.07" stop-color="#00ffbe"/><stop offset="0.21" stop-color="#00ff3c"/><stop offset="0.36" stop-color="#3cff00"/><stop offset="0.5" stop-color="#b4ff00"/><stop offset="0.6" stop-color="#ffff00"/><stop offset="0.66" stop-color="#ffd200"/><stop offset="0.79" stop-color="#ff8c00"/><stop offset="0.9" stop-color="#ff3200"/><stop offset="1" stop-color="#fa0000"/></linearGradient><linearGradient id="g72" gradientUnits="userSpaceOnUse" x1="247.25" y1="220.15" x2="242.48" y2="210.57"><stop offset="0" stop-color="#1eff1e"/><stop offset="0.1" stop-color="#3cff00"/><stop offset="0.3" stop-color="#b4ff00"/><stop offset="0.44" stop-color="#ffff00"/><stop offset="0.52" stop-color="#ffd200"/><stop offset="0.7" stop-color="#ff8c00"/><stop offset="0.86" stop-color="#ff3200"/><stop offset="1" stop-color="#fa0000"/></linearGradient><linearGradient id="g73" gradientUnits="userSpaceOnUse" x1="253.22" y1="201.96" x2="247.25" y2="208.2"><stop offset="0" stop-color="#1eff1e"/><stop offset="0.1" stop-color="#3cff00"/><stop offset="0.3" stop-color="#b4ff00"/><stop offset="0.44" stop-color="#ffff00"/><stop offset="0.52" stop-color="#ffd200"/><stop offset="0.7" stop-color="#ff8c00"/><stop offset="0.86" stop-color="#ff3200"/><stop offset="1" stop-color="#fa0000"/></linearGradient><linearGradient id="g74" gradientUnits="userSpaceOnUse" x1="241.28" y1="214.44" x2="247.25" y2="208.2"><stop offset="0" stop-color="#1eff1e"/><stop offset="0.1" stop-color="#3cff00"/><stop offset="0.3" stop-color="#b4ff00"/><stop offset="0.44" stop-color="#ffff00"/><stop offset="0.52" stop-color="#ffd200"/><stop offset="0.7" stop-color="#ff8c00"/><stop offset="0.86" stop-color="#ff3200"/><stop offset="1" stop-color="#fa0000"/></linearGradient><linearGradient id="g75" gradientUnits="userSpaceOnUse" x1="259.76" y1="207.63" x2="259.22" y2="219.56"><stop offset="0" stop-color="#12ff2a"/><stop offset="0.17" stop-color="#3cff00"/><stop offset="0.4" stop-color="#b4ff00"/><stop offset="0.57" stop-color="#ffff00"/><stop offset="0.67" stop-color="#ffd200"/><stop offset="0.88" stop-color="#ff8c00"/><stop offset="1" stop-color="#ff5400"/></linearGradient><linearGradient id="g76" gradientUnits="userSpaceOnUse" x1="259.74" y1="208.2" x2="257.53" y2="219.73"><stop offset="0" stop-color="#1eff1e"/><stop offset="0.1" stop-color="#3cff00"/><stop offset="0.3" stop-color="#b4ff00"/><stop offset="0.44" stop-color="#ffff00"/><stop offset="0.52" stop-color="#ffd200"/><stop offset="0.7" stop-color="#ff8c00"/><stop offset="0.86" stop-color="#ff3200"/><stop offset="1" stop-color="#fa0000"/></linearGradient><linearGradient id="g77" gradientUnits="userSpaceOnUse" x1="275.32" y1="202.81" x2="270.16" y2="211.79"><stop offset="0" stop-color="#00ff3c"/><stop offset="1" stop-color="#1eff1e"/></linearGradient><linearGradient id="g78" gradientUnits="userSpaceOnUse" x1="272.23" y1="208.2" x2="266.28" y2="214.73"><stop offset="0" stop-color="#12ff2a"/><stop offset="0.17" stop-color="#3cff00"/><stop offset="0.4" stop-color="#b4ff00"/><stop offset="0.57" stop-color="#ffff00"/><stop offset="0.67" stop-color="#ffd200"/><stop offset="0.88" stop-color="#ff8c00"/><stop offset="1" stop-color="#ff5400"/></linearGradient><linearGradient id="g79" gradientUnits="userSpaceOnUse" x1="297.9" y1="209.04" x2="284.71" y2="208.2"><stop offset="0" stop-color="#0032fc"/><stop offset="0.06" stop-color="#003cff"/><stop offset="0.29" stop-color="#0096ff"/><stop offset="0.49" stop-color="#00e6ff"/><stop offset="0.71" stop-color="#00ffbe"/><stop offset="1" stop-color="#00ff3c"/></linearGradient><linearGradient id="g80" gradientUnits="userSpaceOnUse" x1="295.46" y1="206.8" x2="283.18" y2="208.4"><stop offset="0" stop-color="#0032fc"/><stop offset="0.05" stop-color="#003cff"/><stop offset="0.25" stop-color="#0096ff"/><stop offset="0.42" stop-color="#00e6ff"/><stop offset="0.62" stop-color="#00ffbe"/><stop offset="0.87" stop-color="#00ff3c"/><stop offset="1" stop-color="#1eff1e"/></linearGradient><linearGradient id="g81" gradientUnits="userSpaceOnUse" x1="209.79" y1="220.15" x2="197.3" y2="220.15"><stop offset="0" stop-color="#0028fa"/><stop offset="0.05" stop-color="#003cff"/><stop offset="0.16" stop-color="#0096ff"/><stop offset="0.25" stop-color="#00e6ff"/><stop offset="0.35" stop-color="#00ffbe"/><stop offset="0.48" stop-color="#00ff3c"/><stop offset="0.61" stop-color="#3cff00"/><stop offset="0.74" stop-color="#b4ff00"/><stop offset="0.83" stop-color="#ffff00"/><stop offset="0.88" stop-color="#ffd200"/><stop offset="1" stop-color="#ff8c00"/></linearGradient><linearGradient id="g82" gradientUnits="userSpaceOnUse" x1="210.58" y1="221.11" x2="197.3" y2="220.15"><stop offset="0" stop-color="#0028fa"/><stop offset="0.05" stop-color="#003cff"/><stop offset="0.16" stop-color="#0096ff"/><stop offset="0.25" stop-color="#00e6ff"/><stop offset="0.35" stop-color="#00ffbe"/><stop offset="0.48" stop-color="#00ff3c"/><stop offset="0.61" stop-color="#3cff00"/><stop offset="0.74" stop-color="#b4ff00"/><stop offset="0.83" stop-color="#ffff00"/><stop offset="0.88" stop-color="#ffd200"/><stop offset="1" stop-color="#ff8c00"/></linearGradient><linearGradient id="g83" gradientUnits="userSpaceOnUse" x1="209.79" y1="220.15" x2="219.6" y2="215.02"><stop offset="0" stop-color="#0028fa"/><stop offset="1" stop-color="#003cff"/></linearGradient><linearGradient id="g84" gradientUnits="userSpaceOnUse" x1="209.79" y1="220.15" x2="222.28" y2="220.15"><stop offset="0" stop-color="#0028fa"/><stop offset="1" stop-color="#0032fc"/></linearGradient><linearGradient id="g85" gradientUnits="userSpaceOnUse" x1="222.28" y1="220.15" x2="234.71" y2="219.34"><stop offset="0" stop-color="#003cff"/><stop offset="0.13" stop-color="#0096ff"/><stop offset="0.23" stop-color="#00e6ff"/><stop offset="0.36" stop-color="#00ffbe"/><stop offset="0.52" stop-color="#00ff3c"/><stop offset="0.67" stop-color="#3cff00"/><stop offset="0.83" stop-color="#b4ff00"/><stop offset="0.94" stop-color="#ffff00"/><stop offset="1" stop-color="#ffd200"/></linearGradient><linearGradient id="g86" gradientUnits="userSpaceOnUse" x1="221.87" y1="220.16" x2="234.35" y2="219.74"><stop offset="0" stop-color="#0032fc"/><stop offset="0.03" stop-color="#003cff"/><stop offset="0.16" stop-color="#0096ff"/><stop offset="0.27" stop-color="#00e6ff"/><stop offset="0.4" stop-color="#00ffbe"/><stop offset="0.56" stop-color="#00ff3c"/><stop offset="0.73" stop-color="#3cff00"/><stop offset="0.89" stop-color="#b4ff00"/><stop offset="1" stop-color="#ffff00"/></linearGradient><linearGradient id="g87" gradientUnits="userSpaceOnUse" x1="248.12" y1="221.22" x2="234.76" y2="220.15"><stop offset="0" stop-color="#12ff2a"/><stop offset="0.25" stop-color="#3cff00"/><stop offset="0.61" stop-color="#b4ff00"/><stop offset="0.86" stop-color="#ffff00"/><stop offset="1" stop-color="#ffd200"/></linearGradient><linearGradient id="g88" gradientUnits="userSpaceOnUse" x1="248.9" y1="222.61" x2="234.76" y2="220.15"><stop offset="0" stop-color="#12ff2a"/><stop offset="0.25" stop-color="#3cff00"/><stop offset="0.61" stop-color="#b4ff00"/><stop offset="0.86" stop-color="#ffff00"/><stop offset="1" stop-color="#ffd200"/></linearGradient><linearGradient id="g89" gradientUnits="userSpaceOnUse" x1="247.25" y1="220.15" x2="259.21" y2="217.65"><stop offset="0" stop-color="#1eff1e"/><stop offset="0.1" stop-color="#3cff00"/><stop offset="0.3" stop-color="#b4ff00"/><stop offset="0.44" stop-color="#ffff00"/><stop offset="0.52" stop-color="#ffd200"/><stop offset="0.7" stop-color="#ff8c00"/><stop offset="0.86" stop-color="#ff3200"/><stop offset="1" stop-color="#fa0000"/></linearGradient><linearGradient id="g90" gradientUnits="userSpaceOnUse" x1="246.66" y1="220.18" x2="259.11" y2="219.56"><stop offset="0" stop-color="#12ff2a"/><stop offset="0.17" stop-color="#3cff00"/><stop offset="0.4" stop-color="#b4ff00"/><stop offset="0.57" stop-color="#ffff00"/><stop offset="0.67" stop-color="#ffd200"/><stop offset="0.88" stop-color="#ff8c00"/><stop offset="1" stop-color="#ff5400"/></linearGradient><linearGradient id="g91" gradientUnits="userSpaceOnUse" x1="265.71" y1="213.91" x2="259.74" y2="220.15"><stop offset="0" stop-color="#ff5400"/><stop offset="0.3" stop-color="#ff3200"/><stop offset="1" stop-color="#fa0000"/></linearGradient><linearGradient id="g92" gradientUnits="userSpaceOnUse" x1="253.77" y1="226.39" x2="259.74" y2="220.15"><stop offset="0" stop-color="#ff5400"/><stop offset="0.3" stop-color="#ff3200"/><stop offset="1" stop-color="#fa0000"/></linearGradient><linearGradient id="g93" gradientUnits="userSpaceOnUse" x1="284.68" y1="219.5" x2="272.23" y2="220.15"><stop offset="0" stop-color="#1eff1e"/><stop offset="0.13" stop-color="#3cff00"/><stop offset="0.38" stop-color="#b4ff00"/><stop offset="0.55" stop-color="#ffff00"/><stop offset="0.65" stop-color="#ffd200"/><stop offset="0.87" stop-color="#ff8c00"/><stop offset="1" stop-color="#ff5400"/></linearGradient><linearGradient id="g94" gradientUnits="userSpaceOnUse" x1="281.66" y1="218.1" x2="269.74" y2="220.69"><stop offset="0" stop-color="#2aff12"/><stop offset="0.06" stop-color="#3cff00"/><stop offset="0.27" stop-color="#b4ff00"/><stop offset="0.42" stop-color="#ffff00"/><stop offset="0.5" stop-color="#ffd200"/><stop offset="0.69" stop-color="#ff8c00"/><stop offset="0.85" stop-color="#ff3200"/><stop offset="1" stop-color="#fa0000"/></linearGradient><linearGradient id="g95" gradientUnits="userSpaceOnUse" x1="297.2" y1="220.15" x2="284.71" y2="220.15"><stop offset="0" stop-color="#0032fc"/><stop offset="0.05" stop-color="#003cff"/><stop offset="0.25" stop-color="#0096ff"/><stop offset="0.42" stop-color="#00e6ff"/><stop offset="0.62" stop-color="#00ffbe"/><stop offset="0.87" stop-color="#00ff3c"/><stop offset="1" stop-color="#1eff1e"/></linearGradient><linearGradient id="g96" gradientUnits="userSpaceOnUse" x1="296.58" y1="219.56" x2="284.12" y2="220.18"><stop offset="0" stop-color="#0032fc"/><stop offset="0.05" stop-color="#003cff"/><stop offset="0.24" stop-color="#0096ff"/><stop offset="0.4" stop-color="#00e6ff"/><stop offset="0.6" stop-color="#00ffbe"/><stop offset="0.83" stop-color="#00ff3c"/><stop offset="1" stop-color="#2aff12"/></linearGradient><linearGradient id="g97" gradientUnits="userSpaceOnUse" x1="209.79" y1="232.1" x2="197.3" y2="232.1"><stop offset="0" stop-color="#0028fa"/><stop offset="0.06" stop-color="#003cff"/><stop offset="0.17" stop-color="#0096ff"/><stop offset="0.26" stop-color="#00e6ff"/><stop offset="0.37" stop-color="#00ffbe"/><stop offset="0.51" stop-color="#00ff3c"/><stop offset="0.65" stop-color="#3cff00"/><stop offset="0.79" stop-color="#b4ff00"/><stop offset="0.89" stop-color="#ffff00"/><stop offset="0.94" stop-color="#ffd200"/><stop offset="1" stop-color="#ffb300"/></linearGradient><linearGradient id="g98" gradientUnits="userSpaceOnUse" x1="206.84" y1="246.06" x2="197.3" y2="232.1"><stop offset="0" stop-color="#0028fa"/><stop offset="0.06" stop-color="#003cff"/><stop offset="0.17" stop-color="#0096ff"/><stop offset="0.26" stop-color="#00e6ff"/><stop offset="0.37" stop-color="#00ffbe"/><stop offset="0.51" stop-color="#00ff3c"/><stop offset="0.65" stop-color="#3cff00"/><stop offset="0.79" stop-color="#b4ff00"/><stop offset="0.89" stop-color="#ffff00"/><stop offset="0.94" stop-color="#ffd200"/><stop offset="1" stop-color="#ffb300"/></linearGradient><linearGradient id="g99" gradientUnits="userSpaceOnUse" x1="209.79" y1="232.1" x2="222.28" y2="232.1"><stop offset="0" stop-color="#0028fa"/><stop offset="1" stop-color="#0032fc"/></linearGradient><linearGradient id="g100" gradientUnits="userSpaceOnUse" x1="209.79" y1="232.1" x2="222.28" y2="232.1"><stop offset="0" stop-color="#0028fa"/><stop offset="1" stop-color="#0032fc"/></linearGradient><linearGradient id="g101" gradientUnits="userSpaceOnUse" x1="222.28" y1="232.1" x2="233.01" y2="227.76"><stop offset="0" stop-color="#0032fc"/><stop offset="0.03" stop-color="#003cff"/><stop offset="0.16" stop-color="#0096ff"/><stop offset="0.27" stop-color="#00e6ff"/><stop offset="0.4" stop-color="#00ffbe"/><stop offset="0.56" stop-color="#00ff3c"/><stop offset="0.73" stop-color="#3cff00"/><stop offset="0.89" stop-color="#b4ff00"/><stop offset="1" stop-color="#ffff00"/></linearGradient><linearGradient id="g102" gradientUnits="userSpaceOnUse" x1="222.28" y1="232.1" x2="234.76" y2="232.1"><stop offset="0" stop-color="#0032fc"/><stop offset="0.05" stop-color="#003cff"/><stop offset="0.26" stop-color="#0096ff"/><stop offset="0.45" stop-color="#00e6ff"/><stop offset="0.66" stop-color="#00ffbe"/><stop offset="0.92" stop-color="#00ff3c"/><stop offset="1" stop-color="#12ff2a"/></linearGradient><linearGradient id="g103" gradientUnits="userSpaceOnUse" x1="248.58" y1="233.9" x2="234.76" y2="232.1"><stop offset="0" stop-color="#00ff3c"/><stop offset="0.37" stop-color="#3cff00"/><stop offset="0.74" stop-color="#b4ff00"/><stop offset="1" stop-color="#ffff00"/></linearGradient><linearGradient id="g104" gradientUnits="userSpaceOnUse" x1="236.35" y1="245.35" x2="234.76" y2="232.1"><stop offset="0" stop-color="#00ff3c"/><stop offset="0.37" stop-color="#3cff00"/><stop offset="0.74" stop-color="#b4ff00"/><stop offset="1" stop-color="#ffff00"/></linearGradient><linearGradient id="g105" gradientUnits="userSpaceOnUse" x1="247.25" y1="232.1" x2="253.52" y2="225.86"><stop offset="0" stop-color="#12ff2a"/><stop offset="0.17" stop-color="#3cff00"/><stop offset="0.4" stop-color="#b4ff00"/><stop offset="0.57" stop-color="#ffff00"/><stop offset="0.67" stop-color="#ffd200"/><stop offset="0.88" stop-color="#ff8c00"/><stop offset="1" stop-color="#ff5400"/></linearGradient><linearGradient id="g106" gradientUnits="userSpaceOnUse" x1="241.87" y1="235.47" x2="250.84" y2="229.85"><stop offset="0" stop-color="#00ff3c"/><stop offset="1" stop-color="#1eff1e"/></linearGradient><linearGradient id="g107" gradientUnits="userSpaceOnUse" x1="257.92" y1="241.2" x2="260.21" y2="229.71"><stop offset="0" stop-color="#2aff12"/><stop offset="0.06" stop-color="#3cff00"/><stop offset="0.27" stop-color="#b4ff00"/><stop offset="0.42" stop-color="#ffff00"/><stop offset="0.5" stop-color="#ffd200"/><stop offset="0.69" stop-color="#ff8c00"/><stop offset="0.85" stop-color="#ff3200"/><stop offset="1" stop-color="#fa0000"/></linearGradient><linearGradient id="g108" gradientUnits="userSpaceOnUse" x1="259.17" y1="244.02" x2="259.74" y2="232.1"><stop offset="0" stop-color="#1eff1e"/><stop offset="0.13" stop-color="#3cff00"/><stop offset="0.38" stop-color="#b4ff00"/><stop offset="0.55" stop-color="#ffff00"/><stop offset="0.65" stop-color="#ffd200"/><stop offset="0.87" stop-color="#ff8c00"/><stop offset="1" stop-color="#ff5400"/></linearGradient><linearGradient id="g109" gradientUnits="userSpaceOnUse" x1="278.19" y1="225.86" x2="272.23" y2="232.1"><stop offset="0" stop-color="#2aff12"/><stop offset="0.06" stop-color="#3cff00"/><stop offset="0.27" stop-color="#b4ff00"/><stop offset="0.42" stop-color="#ffff00"/><stop offset="0.5" stop-color="#ffd200"/><stop offset="0.69" stop-color="#ff8c00"/><stop offset="0.85" stop-color="#ff3200"/><stop offset="1" stop-color="#fa0000"/></linearGradient><linearGradient id="g110" gradientUnits="userSpaceOnUse" x1="266.26" y1="238.34" x2="272.23" y2="232.1"><stop offset="0" stop-color="#2aff12"/><stop offset="0.06" stop-color="#3cff00"/><stop offset="0.27" stop-color="#b4ff00"/><stop offset="0.42" stop-color="#ffff00"/><stop offset="0.5" stop-color="#ffd200"/><stop offset="0.69" stop-color="#ff8c00"/><stop offset="0.85" stop-color="#ff3200"/><stop offset="1" stop-color="#fa0000"/></linearGradient><linearGradient id="g111" gradientUnits="userSpaceOnUse" x1="296.18" y1="228.68" x2="284.71" y2="232.1"><stop offset="0" stop-color="#0032fc"/><stop offset="0.05" stop-color="#003cff"/><stop offset="0.24" stop-color="#0096ff"/><stop offset="0.4" stop-color="#00e6ff"/><stop offset="0.6" stop-color="#00ffbe"/><stop offset="0.83" stop-color="#00ff3c"/><stop offset="1" stop-color="#2aff12"/></linearGradient><linearGradient id="g112" gradientUnits="userSpaceOnUse" x1="288.11" y1="229.92" x2="279.28" y2="235.6"><stop offset="0" stop-color="#00adff"/><stop offset="0.06" stop-color="#00e6ff"/><stop offset="0.17" stop-color="#00ffbe"/><stop offset="0.29" stop-color="#00ff3c"/><stop offset="0.42" stop-color="#3cff00"/><stop offset="0.55" stop-color="#b4ff00"/><stop offset="0.64" stop-color="#ffff00"/><stop offset="0.69" stop-color="#ffd200"/><stop offset="0.81" stop-color="#ff8c00"/><stop offset="0.91" stop-color="#ff3200"/><stop offset="1" stop-color="#fa0000"/></linearGradient><linearGradient id="g113" gradientUnits="userSpaceOnUse" x1="210.56" y1="244.97" x2="197.3" y2="244.05"><stop offset="0" stop-color="#001ef8"/><stop offset="0.19" stop-color="#003cff"/><stop offset="0.44" stop-color="#0096ff"/><stop offset="0.66" stop-color="#00e6ff"/><stop offset="0.91" stop-color="#00ffbe"/><stop offset="1" stop-color="#00ff97"/></linearGradient><linearGradient id="g114" gradientUnits="userSpaceOnUse" x1="196.95" y1="255.99" x2="197.3" y2="244.05"><stop offset="0" stop-color="#0019f6"/><stop offset="0.21" stop-color="#003cff"/><stop offset="0.45" stop-color="#0096ff"/><stop offset="0.67" stop-color="#00e6ff"/><stop offset="0.91" stop-color="#00ffbe"/><stop offset="1" stop-color="#00ff97"/></linearGradient><linearGradient id="g115" gradientUnits="userSpaceOnUse" x1="207.39" y1="250.3" x2="211.38" y2="239.88"><stop offset="0" stop-color="#0019f6"/><stop offset="1" stop-color="#0032fc"/></linearGradient><linearGradient id="g116" gradientUnits="userSpaceOnUse" x1="216.77" y1="258.64" x2="209.79" y2="244.05"><stop offset="0" stop-color="#0019f6"/><stop offset="1" stop-color="#0028fa"/></linearGradient><linearGradient id="g117" gradientUnits="userSpaceOnUse" x1="222.28" y1="244.05" x2="228.24" y2="237.81"><stop offset="0" stop-color="#0032fc"/><stop offset="0.05" stop-color="#003cff"/><stop offset="0.26" stop-color="#0096ff"/><stop offset="0.45" stop-color="#00e6ff"/><stop offset="0.66" stop-color="#00ffbe"/><stop offset="0.92" stop-color="#00ff3c"/><stop offset="1" stop-color="#12ff2a"/></linearGradient><linearGradient id="g118" gradientUnits="userSpaceOnUse" x1="216.31" y1="250.29" x2="222.28" y2="244.05"><stop offset="0" stop-color="#0019f6"/><stop offset="1" stop-color="#0032fc"/></linearGradient><linearGradient id="g119" gradientUnits="userSpaceOnUse" x1="235.89" y1="256.99" x2="234.76" y2="244.05"><stop offset="0" stop-color="#003cff"/><stop offset="0.22" stop-color="#0096ff"/><stop offset="0.42" stop-color="#00e6ff"/><stop offset="0.64" stop-color="#00ffbe"/><stop offset="0.92" stop-color="#00ff3c"/><stop offset="1" stop-color="#12ff2a"/></linearGradient><linearGradient id="g120" gradientUnits="userSpaceOnUse" x1="234.16" y1="255.97" x2="234.76" y2="244.05"><stop offset="0" stop-color="#0032fc"/><stop offset="0.05" stop-color="#003cff"/><stop offset="0.26" stop-color="#0096ff"/><stop offset="0.45" stop-color="#00e6ff"/><stop offset="0.66" stop-color="#00ffbe"/><stop offset="0.92" stop-color="#00ff3c"/><stop offset="1" stop-color="#12ff2a"/></linearGradient><linearGradient id="g121" gradientUnits="userSpaceOnUse" x1="246.02" y1="254.36" x2="247.43" y2="242.58"><stop offset="0" stop-color="#0032fc"/><stop offset="0.05" stop-color="#003cff"/><stop offset="0.25" stop-color="#0096ff"/><stop offset="0.42" stop-color="#00e6ff"/><stop offset="0.62" stop-color="#00ffbe"/><stop offset="0.87" stop-color="#00ff3c"/><stop offset="1" stop-color="#1eff1e"/></linearGradient><linearGradient id="g122" gradientUnits="userSpaceOnUse" x1="247.98" y1="256.68" x2="247.25" y2="244.05"><stop offset="0" stop-color="#0032fc"/><stop offset="0.06" stop-color="#003cff"/><stop offset="0.29" stop-color="#0096ff"/><stop offset="0.49" stop-color="#00e6ff"/><stop offset="0.71" stop-color="#00ffbe"/><stop offset="1" stop-color="#00ff3c"/></linearGradient><linearGradient id="g123" gradientUnits="userSpaceOnUse" x1="259.22" y1="255.41" x2="259.76" y2="243.48"><stop offset="0" stop-color="#0032fc"/><stop offset="0.05" stop-color="#003cff"/><stop offset="0.24" stop-color="#0096ff"/><stop offset="0.4" stop-color="#00e6ff"/><stop offset="0.6" stop-color="#00ffbe"/><stop offset="0.83" stop-color="#00ff3c"/><stop offset="1" stop-color="#2aff12"/></linearGradient><linearGradient id="g124" gradientUnits="userSpaceOnUse" x1="259.74" y1="256" x2="259.74" y2="244.05"><stop offset="0" stop-color="#0032fc"/><stop offset="0.05" stop-color="#003cff"/><stop offset="0.25" stop-color="#0096ff"/><stop offset="0.42" stop-color="#00e6ff"/><stop offset="0.62" stop-color="#00ffbe"/><stop offset="0.87" stop-color="#00ff3c"/><stop offset="1" stop-color="#1eff1e"/></linearGradient><linearGradient id="g125" gradientUnits="userSpaceOnUse" x1="270.22" y1="247.46" x2="275.44" y2="238.59"><stop offset="0" stop-color="#00adff"/><stop offset="0.06" stop-color="#00e6ff"/><stop offset="0.17" stop-color="#00ffbe"/><stop offset="0.29" stop-color="#00ff3c"/><stop offset="0.42" stop-color="#3cff00"/><stop offset="0.55" stop-color="#b4ff00"/><stop offset="0.64" stop-color="#ffff00"/><stop offset="0.69" stop-color="#ffd200"/><stop offset="0.81" stop-color="#ff8c00"/><stop offset="0.91" stop-color="#ff3200"/><stop offset="1" stop-color="#fa0000"/></linearGradient><linearGradient id="g126" gradientUnits="userSpaceOnUse" x1="269.18" y1="255.17" x2="272.23" y2="244.05"><stop offset="0" stop-color="#0032fc"/><stop offset="0.05" stop-color="#003cff"/><stop offset="0.24" stop-color="#0096ff"/><stop offset="0.4" stop-color="#00e6ff"/><stop offset="0.6" stop-color="#00ffbe"/><stop offset="0.83" stop-color="#00ff3c"/><stop offset="1" stop-color="#2aff12"/></linearGradient><linearGradient id="g127" gradientUnits="userSpaceOnUse" x1="290.68" y1="237.81" x2="284.71" y2="244.05"><stop offset="0" stop-color="#00adff"/><stop offset="0.06" stop-color="#00e6ff"/><stop offset="0.17" stop-color="#00ffbe"/><stop offset="0.29" stop-color="#00ff3c"/><stop offset="0.42" stop-color="#3cff00"/><stop offset="0.55" stop-color="#b4ff00"/><stop offset="0.64" stop-color="#ffff00"/><stop offset="0.69" stop-color="#ffd200"/><stop offset="0.81" stop-color="#ff8c00"/><stop offset="0.91" stop-color="#ff3200"/><stop offset="1" stop-color="#fa0000"/></linearGradient><linearGradient id="g128" gradientUnits="userSpaceOnUse" x1="278.74" y1="250.29" x2="284.71" y2="244.05"><stop offset="0" stop-color="#00adff"/><stop offset="0.06" stop-color="#00e6ff"/><stop offset="0.17" stop-color="#00ffbe"/><stop offset="0.29" stop-color="#00ff3c"/><stop offset="0.42" stop-color="#3cff00"/><stop offset="0.55" stop-color="#b4ff00"/><stop offset="0.64" stop-color="#ffff00"/><stop offset="0.69" stop-color="#ffd200"/><stop offset="0.81" stop-color="#ff8c00"/><stop offset="0.91" stop-color="#ff3200"/><stop offset="1" stop-color="#fa0000"/></linearGradient></defs>
<svg x="197.3" y="160.4" width="99.9" height="95.6" viewBox="197.3 160.4 99.9 95.6" overflow="hidden">
<polygon points="197.3,160.4 209.79,160.4 209.79,172.35" fill="url(#g1)" stroke="url(#g1)" stroke-width="0.8"/>
<polygon points="197.3,160.4 197.3,172.35 209.79,172.35" fill="url(#g2)" stroke="url(#g2)" stroke-width="0.8"/>
<polygon points="209.79,160.4 222.28,160.4 222.28,172.35" fill="url(#g3)" stroke="url(#g3)" stroke-width="0.8"/>
<polygon points="209.79,160.4 209.79,172.35 222.28,172.35" fill="url(#g4)" stroke="url(#g4)" stroke-width="0.8"/>
<polygon points="222.28,160.4 234.76,160.4 234.76,172.35" fill="url(#g5)" stroke="url(#g5)" stroke-width="0.8"/>
<polygon points="222.28,160.4 222.28,172.35 234.76,172.35" fill="url(#g6)" stroke="url(#g6)" stroke-width="0.8"/>
<polygon points="234.76,160.4 247.25,160.4 247.25,172.35" fill="url(#g7)" stroke="url(#g7)" stroke-width="0.8"/>
<polygon points="234.76,160.4 234.76,172.35 247.25,172.35" fill="url(#g8)" stroke="url(#g8)" stroke-width="0.8"/>
<polygon points="247.25,160.4 259.74,160.4 259.74,172.35" fill="url(#g9)" stroke="url(#g9)" stroke-width="0.8"/>
<polygon points="247.25,160.4 247.25,172.35 259.74,172.35" fill="url(#g10)" stroke="url(#g10)" stroke-width="0.8"/>
<polygon points="259.74,160.4 272.23,160.4 272.23,172.35" fill="url(#g11)" stroke="url(#g11)" stroke-width="0.8"/>
<polygon points="259.74,160.4 259.74,172.35 272.23,172.35" fill="url(#g12)" stroke="url(#g12)" stroke-width="0.8"/>
<polygon points="272.23,160.4 284.71,160.4 284.71,172.35" fill="url(#g13)" stroke="url(#g13)" stroke-width="0.8"/>
<polygon points="272.23,160.4 272.23,172.35 284.71,172.35" fill="url(#g14)" stroke="url(#g14)" stroke-width="0.8"/>
<polygon points="284.71,160.4 297.2,160.4 297.2,172.35" fill="url(#g15)" stroke="url(#g15)" stroke-width="0.8"/>
<polygon points="284.71,160.4 284.71,172.35 297.2,172.35" fill="url(#g16)" stroke="url(#g16)" stroke-width="0.8"/>
<polygon points="197.3,172.35 209.79,172.35 209.79,184.3" fill="url(#g17)" stroke="url(#g17)" stroke-width="0.8"/>
<polygon points="197.3,172.35 197.3,184.3 209.79,184.3" fill="url(#g18)" stroke="url(#g18)" stroke-width="0.8"/>
<polygon points="209.79,172.35 222.28,172.35 222.28,184.3" fill="url(#g19)" stroke="url(#g19)" stroke-width="0.8"/>
<polygon points="209.79,172.35 209.79,184.3 222.28,184.3" fill="url(#g20)" stroke="url(#g20)" stroke-width="0.8"/>
<polygon points="222.28,172.35 234.76,172.35 234.76,184.3" fill="url(#g21)" stroke="url(#g21)" stroke-width="0.8"/>
<polygon points="222.28,172.35 222.28,184.3 234.76,184.3" fill="url(#g22)" stroke="url(#g22)" stroke-width="0.8"/>
<polygon points="234.76,172.35 247.25,172.35 247.25,184.3" fill="url(#g23)" stroke="url(#g23)" stroke-width="0.8"/>
<polygon points="234.76,172.35 234.76,184.3 247.25,184.3" fill="url(#g24)" stroke="url(#g24)" stroke-width="0.8"/>
<polygon points="247.25,172.35 259.74,172.35 259.74,184.3" fill="url(#g25)" stroke="url(#g25)" stroke-width="0.8"/>
<polygon points="247.25,172.35 247.25,184.3 259.74,184.3" fill="url(#g26)" stroke="url(#g26)" stroke-width="0.8"/>
<polygon points="259.74,172.35 272.23,172.35 272.23,184.3" fill="url(#g27)" stroke="url(#g27)" stroke-width="0.8"/>
<polygon points="259.74,172.35 259.74,184.3 272.23,184.3" fill="url(#g28)" stroke="url(#g28)" stroke-width="0.8"/>
<polygon points="272.23,172.35 284.71,172.35 284.71,184.3" fill="url(#g29)" stroke="url(#g29)" stroke-width="0.8"/>
<polygon points="272.23,172.35 272.23,184.3 284.71,184.3" fill="url(#g30)" stroke="url(#g30)" stroke-width="0.8"/>
<polygon points="284.71,172.35 297.2,172.35 297.2,184.3" fill="url(#g31)" stroke="url(#g31)" stroke-width="0.8"/>
<polygon points="284.71,172.35 284.71,184.3 297.2,184.3" fill="url(#g32)" stroke="url(#g32)" stroke-width="0.8"/>
<polygon points="197.3,184.3 209.79,184.3 209.79,196.25" fill="url(#g33)" stroke="url(#g33)" stroke-width="0.8"/>
<polygon points="197.3,184.3 197.3,196.25 209.79,196.25" fill="url(#g34)" stroke="url(#g34)" stroke-width="0.8"/>
<polygon points="209.79,184.3 222.28,184.3 222.28,196.25" fill="url(#g35)" stroke="url(#g35)" stroke-width="0.8"/>
<polygon points="209.79,184.3 209.79,196.25 222.28,196.25" fill="url(#g36)" stroke="url(#g36)" stroke-width="0.8"/>
<polygon points="222.28,184.3 234.76,184.3 234.76,196.25" fill="url(#g37)" stroke="url(#g37)" stroke-width="0.8"/>
<polygon points="222.28,184.3 222.28,196.25 234.76,196.25" fill="url(#g38)" stroke="url(#g38)" stroke-width="0.8"/>
<polygon points="234.76,184.3 247.25,184.3 247.25,196.25" fill="url(#g39)" stroke="url(#g39)" stroke-width="0.8"/>
<polygon points="234.76,184.3 234.76,196.25 247.25,196.25" fill="url(#g40)" stroke="url(#g40)" stroke-width="0.8"/>
<polygon points="247.25,184.3 259.74,184.3 259.74,196.25" fill="url(#g41)" stroke="url(#g41)" stroke-width="0.8"/>
<polygon points="247.25,184.3 247.25,196.25 259.74,196.25" fill="url(#g42)" stroke="url(#g42)" stroke-width="0.8"/>
<polygon points="259.74,184.3 272.23,184.3 272.23,196.25" fill="url(#g43)" stroke="url(#g43)" stroke-width="0.8"/>
<polygon points="259.74,184.3 259.74,196.25 272.23,196.25" fill="url(#g44)" stroke="url(#g44)" stroke-width="0.8"/>
<polygon points="272.23,184.3 284.71,184.3 284.71,196.25" fill="url(#g45)" stroke="url(#g45)" stroke-width="0.8"/>
<polygon points="272.23,184.3 272.23,196.25 284.71,196.25" fill="url(#g46)" stroke="url(#g46)" stroke-width="0.8"/>
<polygon points="284.71,184.3 297.2,184.3 297.2,196.25" fill="url(#g47)" stroke="url(#g47)" stroke-width="0.8"/>
<polygon points="284.71,184.3 284.71,196.25 297.2,196.25" fill="url(#g48)" stroke="url(#g48)" stroke-width="0.8"/>
<polygon points="197.3,196.25 209.79,196.25 209.79,208.2" fill="url(#g49)" stroke="url(#g49)" stroke-width="0.8"/>
<polygon points="197.3,196.25 197.3,208.2 209.79,208.2" fill="url(#g50)" stroke="url(#g50)" stroke-width="0.8"/>
<polygon points="209.79,196.25 222.28,196.25 222.28,208.2" fill="url(#g51)" stroke="url(#g51)" stroke-width="0.8"/>
<polygon points="209.79,196.25 209.79,208.2 222.28,208.2" fill="url(#g52)" stroke="url(#g52)" stroke-width="0.8"/>
<polygon points="222.28,196.25 234.76,196.25 234.76,208.2" fill="url(#g53)" stroke="url(#g53)" stroke-width="0.8"/>
<polygon points="222.28,196.25 222.28,208.2 234.76,208.2" fill="url(#g54)" stroke="url(#g54)" stroke-width="0.8"/>
<polygon points="234.76,196.25 247.25,196.25 247.25,208.2" fill="url(#g55)" stroke="url(#g55)" stroke-width="0.8"/>
<polygon points="234.76,196.25 234.76,208.2 247.25,208.2" fill="url(#g56)" stroke="url(#g56)" stroke-width="0.8"/>
<polygon points="247.25,196.25 259.74,196.25 247.25,208.2" fill="url(#g57)" stroke="url(#g57)" stroke-width="0.8"/>
<polygon points="259.74,208.2 259.74,196.25 247.25,208.2" fill="url(#g58)" stroke="url(#g58)" stroke-width="0.8"/>
<polygon points="259.74,196.25 272.23,196.25 272.23,208.2" fill="url(#g59)" stroke="url(#g59)" stroke-width="0.8"/>
<polygon points="259.74,196.25 259.74,208.2 272.23,208.2" fill="url(#g60)" stroke="url(#g60)" stroke-width="0.8"/>
<polygon points="272.23,196.25 284.71,196.25 284.71,208.2" fill="url(#g61)" stroke="url(#g61)" stroke-width="0.8"/>
<polygon points="272.23,196.25 272.23,208.2 284.71,208.2" fill="url(#g62)" stroke="url(#g62)" stroke-width="0.8"/>
<polygon points="284.71,196.25 297.2,196.25 297.2,208.2" fill="url(#g63)" stroke="url(#g63)" stroke-width="0.8"/>
<polygon points="284.71,196.25 284.71,208.2 297.2,208.2" fill="url(#g64)" stroke="url(#g64)" stroke-width="0.8"/>
<polygon points="197.3,208.2 209.79,208.2 209.79,220.15" fill="url(#g65)" stroke="url(#g65)" stroke-width="0.8"/>
<polygon points="197.3,208.2 197.3,220.15 209.79,220.15" fill="url(#g66)" stroke="url(#g66)" stroke-width="0.8"/>
<polygon points="209.79,208.2 222.28,208.2 222.28,220.15" fill="url(#g67)" stroke="url(#g67)" stroke-width="0.8"/>
<polygon points="209.79,208.2 209.79,220.15 222.28,220.15" fill="url(#g68)" stroke="url(#g68)" stroke-width="0.8"/>
<polygon points="222.28,208.2 234.76,208.2 234.76,220.15" fill="url(#g69)" stroke="url(#g69)" stroke-width="0.8"/>
<polygon points="222.28,208.2 222.28,220.15 234.76,220.15" fill="url(#g70)" stroke="url(#g70)" stroke-width="0.8"/>
<polygon points="234.76,208.2 247.25,208.2 234.76,220.15" fill="url(#g71)" stroke="url(#g71)" stroke-width="0.8"/>
<polygon points="247.25,220.15 247.25,208.2 234.76,220.15" fill="url(#g72)" stroke="url(#g72)" stroke-width="0.8"/>
<polygon points="247.25,208.2 259.74,208.2 259.74,220.15" fill="url(#g73)" stroke="url(#g73)" stroke-width="0.8"/>
<polygon points="247.25,208.2 247.25,220.15 259.74,220.15" fill="url(#g74)" stroke="url(#g74)" stroke-width="0.8"/>
<polygon points="259.74,208.2 272.23,208.2 272.23,220.15" fill="url(#g75)" stroke="url(#g75)" stroke-width="0.8"/>
<polygon points="259.74,208.2 259.74,220.15 272.23,220.15" fill="url(#g76)" stroke="url(#g76)" stroke-width="0.8"/>
<polygon points="272.23,208.2 284.71,208.2 284.71,220.15" fill="url(#g77)" stroke="url(#g77)" stroke-width="0.8"/>
<polygon points="272.23,208.2 272.23,220.15 284.71,220.15" fill="url(#g78)" stroke="url(#g78)" stroke-width="0.8"/>
<polygon points="284.71,208.2 297.2,208.2 297.2,220.15" fill="url(#g79)" stroke="url(#g79)" stroke-width="0.8"/>
<polygon points="284.71,208.2 284.71,220.15 297.2,220.15" fill="url(#g80)" stroke="url(#g80)" stroke-width="0.8"/>
<polygon points="197.3,220.15 209.79,220.15 209.79,232.1" fill="url(#g81)" stroke="url(#g81)" stroke-width="0.8"/>
<polygon points="197.3,220.15 197.3,232.1 209.79,232.1" fill="url(#g82)" stroke="url(#g82)" stroke-width="0.8"/>
<polygon points="209.79,220.15 222.28,220.15 222.28,232.1" fill="url(#g83)" stroke="url(#g83)" stroke-width="0.8"/>
<polygon points="209.79,220.15 209.79,232.1 222.28,232.1" fill="url(#g84)" stroke="url(#g84)" stroke-width="0.8"/>
<polygon points="222.28,220.15 234.76,220.15 234.76,232.1" fill="url(#g85)" stroke="url(#g85)" stroke-width="0.8"/>
<polygon points="222.28,220.15 222.28,232.1 234.76,232.1" fill="url(#g86)" stroke="url(#g86)" stroke-width="0.8"/>
<polygon points="234.76,220.15 247.25,220.15 247.25,232.1" fill="url(#g87)" stroke="url(#g87)" stroke-width="0.8"/>
<polygon points="234.76,220.15 234.76,232.1 247.25,232.1" fill="url(#g88)" stroke="url(#g88)" stroke-width="0.8"/>
<polygon points="247.25,220.15 259.74,220.15 259.74,232.1" fill="url(#g89)" stroke="url(#g89)" stroke-width="0.8"/>
<polygon points="247.25,220.15 247.25,232.1 259.74,232.1" fill="url(#g90)" stroke="url(#g90)" stroke-width="0.8"/>
<polygon points="259.74,220.15 272.23,220.15 272.23,232.1" fill="url(#g91)" stroke="url(#g91)" stroke-width="0.8"/>
<polygon points="259.74,220.15 259.74,232.1 272.23,232.1" fill="url(#g92)" stroke="url(#g92)" stroke-width="0.8"/>
<polygon points="272.23,220.15 284.71,220.15 284.71,232.1" fill="url(#g93)" stroke="url(#g93)" stroke-width="0.8"/>
<polygon points="272.23,220.15 272.23,232.1 284.71,232.1" fill="url(#g94)" stroke="url(#g94)" stroke-width="0.8"/>
<polygon points="284.71,220.15 297.2,220.15 297.2,232.1" fill="url(#g95)" stroke="url(#g95)" stroke-width="0.8"/>
<polygon points="284.71,220.15 284.71,232.1 297.2,232.1" fill="url(#g96)" stroke="url(#g96)" stroke-width="0.8"/>
<polygon points="197.3,232.1 209.79,232.1 209.79,244.05" fill="url(#g97)" stroke="url(#g97)" stroke-width="0.8"/>
<polygon points="197.3,232.1 197.3,244.05 209.79,244.05" fill="url(#g98)" stroke="url(#g98)" stroke-width="0.8"/>
<polygon points="209.79,232.1 222.28,232.1 222.28,244.05" fill="url(#g99)" stroke="url(#g99)" stroke-width="0.8"/>
<polygon points="209.79,232.1 209.79,244.05 222.28,244.05" fill="url(#g100)" stroke="url(#g100)" stroke-width="0.8"/>
<polygon points="222.28,232.1 234.76,232.1 234.76,244.05" fill="url(#g101)" stroke="url(#g101)" stroke-width="0.8"/>
<polygon points="222.28,232.1 222.28,244.05 234.76,244.05" fill="url(#g102)" stroke="url(#g102)" stroke-width="0.8"/>
<polygon points="234.76,232.1 247.25,232.1 247.25,244.05" fill="url(#g103)" stroke="url(#g103)" stroke-width="0.8"/>
<polygon points="234.76,232.1 234.76,244.05 247.25,244.05" fill="url(#g104)" stroke="url(#g104)" stroke-width="0.8"/>
<polygon points="247.25,232.1 259.74,232.1 259.74,244.05" fill="url(#g105)" stroke="url(#g105)" stroke-width="0.8"/>
<polygon points="247.25,232.1 247.25,244.05 259.74,244.05" fill="url(#g106)" stroke="url(#g106)" stroke-width="0.8"/>
<polygon points="259.74,232.1 272.23,232.1 272.23,244.05" fill="url(#g107)" stroke="url(#g107)" stroke-width="0.8"/>
<polygon points="259.74,232.1 259.74,244.05 272.23,244.05" fill="url(#g108)" stroke="url(#g108)" stroke-width="0.8"/>
<polygon points="272.23,232.1 284.71,232.1 284.71,244.05" fill="url(#g109)" stroke="url(#g109)" stroke-width="0.8"/>
<polygon points="272.23,232.1 272.23,244.05 284.71,244.05" fill="url(#g110)" stroke="url(#g110)" stroke-width="0.8"/>
<polygon points="284.71,232.1 297.2,232.1 297.2,244.05" fill="url(#g111)" stroke="url(#g111)" stroke-width="0.8"/>
<polygon points="284.71,232.1 284.71,244.05 297.2,244.05" fill="url(#g112)" stroke="url(#g112)" stroke-width="0.8"/>
<polygon points="197.3,244.05 209.79,244.05 209.79,256" fill="url(#g113)" stroke="url(#g113)" stroke-width="0.8"/>
<polygon points="197.3,244.05 197.3,256 209.79,256" fill="url(#g114)" stroke="url(#g114)" stroke-width="0.8"/>
<polygon points="209.79,244.05 222.28,244.05 222.28,256" fill="url(#g115)" stroke="url(#g115)" stroke-width="0.8"/>
<polygon points="209.79,244.05 209.79,256 222.28,256" fill="url(#g116)" stroke="url(#g116)" stroke-width="0.8"/>
<polygon points="222.28,244.05 234.76,244.05 234.76,256" fill="url(#g117)" stroke="url(#g117)" stroke-width="0.8"/>
<polygon points="222.28,244.05 222.28,256 234.76,256" fill="url(#g118)" stroke="url(#g118)" stroke-width="0.8"/>
<polygon points="234.76,244.05 247.25,244.05 247.25,256" fill="url(#g119)" stroke="url(#g119)" stroke-width="0.8"/>
<polygon points="234.76,244.05 234.76,256 247.25,256" fill="url(#g120)" stroke="url(#g120)" stroke-width="0.8"/>
<polygon points="247.25,244.05 259.74,244.05 259.74,256" fill="url(#g121)" stroke="url(#g121)" stroke-width="0.8"/>
<polygon points="247.25,244.05 247.25,256 259.74,256" fill="url(#g122)" stroke="url(#g122)" stroke-width="0.8"/>
<polygon points="259.74,244.05 272.23,244.05 272.23,256" fill="url(#g123)" stroke="url(#g123)" stroke-width="0.8"/>
<polygon points="259.74,244.05 259.74,256 272.23,256" fill="url(#g124)" stroke="url(#g124)" stroke-width="0.8"/>
<polygon points="272.23,244.05 284.71,244.05 284.71,256" fill="url(#g125)" stroke="url(#g125)" stroke-width="0.8"/>
<polygon points="272.23,244.05 272.23,256 284.71,256" fill="url(#g126)" stroke="url(#g126)" stroke-width="0.8"/>
<polygon points="284.71,244.05 297.2,244.05 297.2,256" fill="url(#g127)" stroke="url(#g127)" stroke-width="0.8"/>
<polygon points="284.71,244.05 284.71,256 297.2,256" fill="url(#g128)" stroke="url(#g128)" stroke-width="0.8"/>
</svg>
<defs><linearGradient id="cb" x1="0" y1="1" x2="0" y2="0"><stop offset="0.0" stop-color="#0000f0"/><stop offset="0.12" stop-color="#003cff"/><stop offset="0.2" stop-color="#0096ff"/><stop offset="0.27" stop-color="#00e6ff"/><stop offset="0.35" stop-color="#00ffbe"/><stop offset="0.45" stop-color="#00ff3c"/><stop offset="0.55" stop-color="#3cff00"/><stop offset="0.65" stop-color="#b4ff00"/><stop offset="0.72" stop-color="#ffff00"/><stop offset="0.76" stop-color="#ffd200"/><stop offset="0.85" stop-color="#ff8c00"/><stop offset="0.93" stop-color="#ff3200"/><stop offset="1.0" stop-color="#fa0000"/></linearGradient></defs>
<rect x="299" y="160.4" width="8" height="94.9" fill="url(#cb)"/>
<rect x="299" y="160.4" width="8" height="94.9" fill="none" stroke="#888" stroke-width="0.5"/>
<line x1="307" y1="161.8" x2="309" y2="161.8" stroke="#444" stroke-width="0.6" />
<text x="311.2" y="164.8" font-size="8.5" text-anchor="start" font-weight="normal" font-style="normal" fill="#000" >1</text>
<line x1="307" y1="173.28" x2="309" y2="173.28" stroke="#444" stroke-width="0.6" />
<text x="311.2" y="176.28" font-size="8.5" text-anchor="start" font-weight="normal" font-style="normal" fill="#000" >0.9</text>
<line x1="307" y1="184.76" x2="309" y2="184.76" stroke="#444" stroke-width="0.6" />
<text x="311.2" y="187.76" font-size="8.5" text-anchor="start" font-weight="normal" font-style="normal" fill="#000" >0.8</text>
<line x1="307" y1="196.24" x2="309" y2="196.24" stroke="#444" stroke-width="0.6" />
<text x="311.2" y="199.24" font-size="8.5" text-anchor="start" font-weight="normal" font-style="normal" fill="#000" >0.6</text>
<line x1="307" y1="207.72" x2="309" y2="207.72" stroke="#444" stroke-width="0.6" />
<text x="311.2" y="210.72" font-size="8.5" text-anchor="start" font-weight="normal" font-style="normal" fill="#000" >0.5</text>
<line x1="307" y1="219.2" x2="309" y2="219.2" stroke="#444" stroke-width="0.6" />
<text x="311.2" y="222.2" font-size="8.5" text-anchor="start" font-weight="normal" font-style="normal" fill="#000" >0.4</text>
<line x1="307" y1="230.68" x2="309" y2="230.68" stroke="#444" stroke-width="0.6" />
<text x="311.2" y="233.68" font-size="8.5" text-anchor="start" font-weight="normal" font-style="normal" fill="#000" >0.3</text>
<line x1="307" y1="242.16" x2="309" y2="242.16" stroke="#444" stroke-width="0.6" />
<text x="311.2" y="245.16" font-size="8.5" text-anchor="start" font-weight="normal" font-style="normal" fill="#000" >0.1</text>
<line x1="307" y1="253.64" x2="309" y2="253.64" stroke="#444" stroke-width="0.6" />
<text x="311.2" y="256.64" font-size="8.5" text-anchor="start" font-weight="normal" font-style="normal" fill="#000" >0</text>
<line x1="195" y1="160.4" x2="197" y2="160.4" stroke="#444" stroke-width="0.7" />
<text x="194.5" y="163.3" font-size="8.4" text-anchor="end" font-weight="normal" font-style="normal" fill="#000" >PC1</text>
<line x1="197.3" y1="256" x2="197.3" y2="258" stroke="#444" stroke-width="0.7" />
<text x="200.2" y="258.2" font-size="8.2" text-anchor="end" font-weight="normal" font-style="normal" fill="#000" transform="rotate(-90 200.2 258.2)" >PC1</text>
<line x1="195" y1="172.35" x2="197" y2="172.35" stroke="#444" stroke-width="0.7" />
<text x="194.5" y="175.25" font-size="8.4" text-anchor="end" font-weight="normal" font-style="normal" fill="#000" >PS</text>
<line x1="209.79" y1="256" x2="209.79" y2="258" stroke="#444" stroke-width="0.7" />
<text x="212.69" y="258.2" font-size="8.2" text-anchor="end" font-weight="normal" font-style="normal" fill="#000" transform="rotate(-90 212.69 258.2)" >PS</text>
<line x1="195" y1="184.3" x2="197" y2="184.3" stroke="#444" stroke-width="0.7" />
<text x="194.5" y="187.2" font-size="8.4" text-anchor="end" font-weight="normal" font-style="normal" fill="#000" >PET</text>
<line x1="222.28" y1="256" x2="222.28" y2="258" stroke="#444" stroke-width="0.7" />
<text x="225.18" y="258.2" font-size="8.2" text-anchor="end" font-weight="normal" font-style="normal" fill="#000" transform="rotate(-90 225.18 258.2)" >PET</text>
<line x1="195" y1="196.25" x2="197" y2="196.25" stroke="#444" stroke-width="0.7" />
<text x="194.5" y="199.15" font-size="8.4" text-anchor="end" font-weight="normal" font-style="normal" fill="#000" >PE</text>
<line x1="234.76" y1="256" x2="234.76" y2="258" stroke="#444" stroke-width="0.7" />
<text x="237.66" y="258.2" font-size="8.2" text-anchor="end" font-weight="normal" font-style="normal" fill="#000" transform="rotate(-90 237.66 258.2)" >PE</text>
<line x1="195" y1="208.2" x2="197" y2="208.2" stroke="#444" stroke-width="0.7" />
<text x="194.5" y="211.1" font-size="8.4" text-anchor="end" font-weight="normal" font-style="normal" fill="#000" >PVC</text>
<line x1="247.25" y1="256" x2="247.25" y2="258" stroke="#444" stroke-width="0.7" />
<text x="250.15" y="258.2" font-size="8.2" text-anchor="end" font-weight="normal" font-style="normal" fill="#000" transform="rotate(-90 250.15 258.2)" >PVC</text>
<line x1="195" y1="220.15" x2="197" y2="220.15" stroke="#444" stroke-width="0.7" />
<text x="194.5" y="223.05" font-size="8.4" text-anchor="end" font-weight="normal" font-style="normal" fill="#000" >PP</text>
<line x1="259.74" y1="256" x2="259.74" y2="258" stroke="#444" stroke-width="0.7" />
<text x="262.64" y="258.2" font-size="8.2" text-anchor="end" font-weight="normal" font-style="normal" fill="#000" transform="rotate(-90 262.64 258.2)" >PP</text>
<line x1="195" y1="232.1" x2="197" y2="232.1" stroke="#444" stroke-width="0.7" />
<text x="194.5" y="235" font-size="8.4" text-anchor="end" font-weight="normal" font-style="normal" fill="#000" >PA6</text>
<line x1="272.23" y1="256" x2="272.23" y2="258" stroke="#444" stroke-width="0.7" />
<text x="275.12" y="258.2" font-size="8.2" text-anchor="end" font-weight="normal" font-style="normal" fill="#000" transform="rotate(-90 275.12 258.2)" >PA6</text>
<line x1="195" y1="244.05" x2="197" y2="244.05" stroke="#444" stroke-width="0.7" />
<text x="194.5" y="246.95" font-size="8.2" text-anchor="end" textLength="20.5" lengthAdjust="spacingAndGlyphs">PMMA</text>
<line x1="284.71" y1="256" x2="284.71" y2="258" stroke="#444" stroke-width="0.7" />
<text x="287.61" y="258.2" font-size="8.2" text-anchor="end" transform="rotate(-90 287.61 258.2)" textLength="17.5" lengthAdjust="spacingAndGlyphs">PMMA</text>
<line x1="195" y1="256" x2="197" y2="256" stroke="#444" stroke-width="0.7" />
<text x="194.5" y="258.9" font-size="8.4" text-anchor="end" font-weight="normal" font-style="normal" fill="#000" >PC</text>
<line x1="297.2" y1="256" x2="297.2" y2="258" stroke="#444" stroke-width="0.7" />
<text x="300.1" y="258.2" font-size="8.2" text-anchor="end" font-weight="normal" font-style="normal" fill="#000" transform="rotate(-90 300.1 258.2)" >PC</text>
<text x="216.3" y="157.7" font-size="18" text-anchor="start" font-weight="bold" font-style="normal" fill="#000" >e</text>
</g>
<g id="pf">
<rect x="356.7" y="162.9" width="10" height="81.6" fill="#ff0000"/>
<rect x="369.12" y="235.93" width="10" height="8.57" fill="#ff0000"/>
<rect x="381.54" y="242.05" width="10" height="2.45" fill="#ff0000"/>
<rect x="393.96" y="164.94" width="10" height="79.56" fill="#ff0000"/>
<rect x="406.38" y="211.04" width="10" height="33.46" fill="#ff0000"/>
<rect x="418.8" y="171.88" width="10" height="72.62" fill="#ff0000"/>
<rect x="431.22" y="174.73" width="10" height="69.77" fill="#ff0000"/>
<rect x="443.64" y="211.04" width="10" height="33.46" fill="#ff0000"/>
<rect x="456.06" y="244.17" width="10" height="0.33" fill="#ff0000"/>
<line x1="355.7" y1="161" x2="355.7" y2="245" stroke="#444" stroke-width="0.9" />
<line x1="355.7" y1="245" x2="468" y2="245" stroke="#444" stroke-width="0.9" />
<line x1="353.5" y1="244.5" x2="355.7" y2="244.5" stroke="#444" stroke-width="0.7" />
<text x="352.5" y="247.7" font-size="9" text-anchor="end" font-weight="normal" font-style="normal" fill="#000" >0</text>
<line x1="353.5" y1="228.18" x2="355.7" y2="228.18" stroke="#444" stroke-width="0.7" />
<text x="352.5" y="231.38" font-size="9" text-anchor="end" font-weight="normal" font-style="normal" fill="#000" >0.2</text>
<line x1="353.5" y1="211.86" x2="355.7" y2="211.86" stroke="#444" stroke-width="0.7" />
<text x="352.5" y="215.06" font-size="9" text-anchor="end" font-weight="normal" font-style="normal" fill="#000" >0.4</text>
<line x1="353.5" y1="195.54" x2="355.7" y2="195.54" stroke="#444" stroke-width="0.7" />
<text x="352.5" y="198.74" font-size="9" text-anchor="end" font-weight="normal" font-style="normal" fill="#000" >0.6</text>
<line x1="353.5" y1="179.22" x2="355.7" y2="179.22" stroke="#444" stroke-width="0.7" />
<text x="352.5" y="182.42" font-size="9" text-anchor="end" font-weight="normal" font-style="normal" fill="#000" >0.8</text>
<line x1="353.5" y1="162.9" x2="355.7" y2="162.9" stroke="#444" stroke-width="0.7" />
<text x="352.5" y="166.1" font-size="9" text-anchor="end" font-weight="normal" font-style="normal" fill="#000" >1</text>
<line x1="361.7" y1="245" x2="361.7" y2="247" stroke="#444" stroke-width="0.7" />
<text x="364.7" y="250.8" font-size="8.6" text-anchor="end" font-weight="normal" font-style="normal" fill="#000" transform="rotate(-90 364.7 250.8)" >PC1</text>
<line x1="374.12" y1="245" x2="374.12" y2="247" stroke="#444" stroke-width="0.7" />
<text x="377.12" y="250.8" font-size="8.6" text-anchor="end" font-weight="normal" font-style="normal" fill="#000" transform="rotate(-90 377.12 250.8)" >PS</text>
<line x1="386.54" y1="245" x2="386.54" y2="247" stroke="#444" stroke-width="0.7" />
<text x="389.54" y="250.8" font-size="8.6" text-anchor="end" font-weight="normal" font-style="normal" fill="#000" transform="rotate(-90 389.54 250.8)" >PET</text>
<line x1="398.96" y1="245" x2="398.96" y2="247" stroke="#444" stroke-width="0.7" />
<text x="401.96" y="250.8" font-size="8.6" text-anchor="end" font-weight="normal" font-style="normal" fill="#000" transform="rotate(-90 401.96 250.8)" >PE</text>
<line x1="411.38" y1="245" x2="411.38" y2="247" stroke="#444" stroke-width="0.7" />
<text x="414.38" y="250.8" font-size="8.6" text-anchor="end" font-weight="normal" font-style="normal" fill="#000" transform="rotate(-90 414.38 250.8)" >PVC</text>
<line x1="423.8" y1="245" x2="423.8" y2="247" stroke="#444" stroke-width="0.7" />
<text x="426.8" y="250.8" font-size="8.6" text-anchor="end" font-weight="normal" font-style="normal" fill="#000" transform="rotate(-90 426.8 250.8)" >PP</text>
<line x1="436.22" y1="245" x2="436.22" y2="247" stroke="#444" stroke-width="0.7" />
<text x="439.22" y="250.8" font-size="8.6" text-anchor="end" font-weight="normal" font-style="normal" fill="#000" transform="rotate(-90 439.22 250.8)" >PA</text>
<line x1="448.64" y1="245" x2="448.64" y2="247" stroke="#444" stroke-width="0.7" />
<text x="451.64" y="250.8" font-size="8.6" text-anchor="end" transform="rotate(-90 451.64 250.8)" textLength="26" lengthAdjust="spacingAndGlyphs">PMMA</text>
<line x1="461.06" y1="245" x2="461.06" y2="247" stroke="#444" stroke-width="0.7" />
<text x="464.06" y="250.8" font-size="8.6" text-anchor="end" font-weight="normal" font-style="normal" fill="#000" transform="rotate(-90 464.06 250.8)" >PC</text>
<text x="338.6" y="200.1" font-size="9.3" text-anchor="middle" font-weight="normal" font-style="normal" fill="#000" transform="rotate(-90 338.6 200.1)" >Correlation</text>
<text x="375.2" y="157.5" font-size="19.5" text-anchor="start" font-weight="bold" font-style="normal" fill="#000" >f</text>
</g>
<g id="pg">
<line x1="496.9" y1="160" x2="496.9" y2="249.5" stroke="#444" stroke-width="0.9" />
<line x1="496.9" y1="249.5" x2="601" y2="249.5" stroke="#444" stroke-width="0.9" />
<line x1="494.7" y1="249.12" x2="496.9" y2="249.12" stroke="#444" stroke-width="0.7" />
<text x="493.5" y="252.32" font-size="9" text-anchor="end" font-weight="normal" font-style="normal" fill="#000" >-0.2</text>
<line x1="494.7" y1="235.2" x2="496.9" y2="235.2" stroke="#444" stroke-width="0.7" />
<text x="493.5" y="238.4" font-size="9" text-anchor="end" font-weight="normal" font-style="normal" fill="#000" >0</text>
<line x1="494.7" y1="221.28" x2="496.9" y2="221.28" stroke="#444" stroke-width="0.7" />
<text x="493.5" y="224.48" font-size="9" text-anchor="end" font-weight="normal" font-style="normal" fill="#000" >0.2</text>
<line x1="494.7" y1="207.36" x2="496.9" y2="207.36" stroke="#444" stroke-width="0.7" />
<text x="493.5" y="210.56" font-size="9" text-anchor="end" font-weight="normal" font-style="normal" fill="#000" >0.4</text>
<line x1="494.7" y1="193.44" x2="496.9" y2="193.44" stroke="#444" stroke-width="0.7" />
<text x="493.5" y="196.64" font-size="9" text-anchor="end" font-weight="normal" font-style="normal" fill="#000" >0.6</text>
<line x1="494.7" y1="179.52" x2="496.9" y2="179.52" stroke="#444" stroke-width="0.7" />
<text x="493.5" y="182.72" font-size="9" text-anchor="end" font-weight="normal" font-style="normal" fill="#000" >0.8</text>
<line x1="494.7" y1="165.6" x2="496.9" y2="165.6" stroke="#444" stroke-width="0.7" />
<text x="493.5" y="168.8" font-size="9" text-anchor="end" font-weight="normal" font-style="normal" fill="#000" >1</text>
<line x1="509.5" y1="249.5" x2="509.5" y2="251.5" stroke="#444" stroke-width="0.7" />
<text x="512.5" y="252.3" font-size="8.6" text-anchor="end" font-weight="normal" font-style="normal" fill="#000" transform="rotate(-90 512.5 252.3)" >PS</text>
<line x1="521.77" y1="249.5" x2="521.77" y2="251.5" stroke="#444" stroke-width="0.7" />
<text x="524.77" y="252.3" font-size="8.6" text-anchor="end" font-weight="normal" font-style="normal" fill="#000" transform="rotate(-90 524.77 252.3)" >PET</text>
<line x1="534.04" y1="249.5" x2="534.04" y2="251.5" stroke="#444" stroke-width="0.7" />
<text x="537.04" y="252.3" font-size="8.6" text-anchor="end" font-weight="normal" font-style="normal" fill="#000" transform="rotate(-90 537.04 252.3)" >PE</text>
<line x1="546.31" y1="249.5" x2="546.31" y2="251.5" stroke="#444" stroke-width="0.7" />
<text x="549.31" y="252.3" font-size="8.6" text-anchor="end" font-weight="normal" font-style="normal" fill="#000" transform="rotate(-90 549.31 252.3)" >PVC</text>
<line x1="558.58" y1="249.5" x2="558.58" y2="251.5" stroke="#444" stroke-width="0.7" />
<text x="561.58" y="252.3" font-size="8.6" text-anchor="end" font-weight="normal" font-style="normal" fill="#000" transform="rotate(-90 561.58 252.3)" >PP</text>
<line x1="570.85" y1="249.5" x2="570.85" y2="251.5" stroke="#444" stroke-width="0.7" />
<text x="573.85" y="252.3" font-size="8.6" text-anchor="end" font-weight="normal" font-style="normal" fill="#000" transform="rotate(-90 573.85 252.3)" >PA</text>
<line x1="583.12" y1="249.5" x2="583.12" y2="251.5" stroke="#444" stroke-width="0.7" />
<text x="586.12" y="252.3" font-size="8.6" text-anchor="end" font-weight="normal" font-style="normal" fill="#000" transform="rotate(-90 586.12 252.3)" >PMMA</text>
<line x1="595.39" y1="249.5" x2="595.39" y2="251.5" stroke="#444" stroke-width="0.7" />
<text x="598.39" y="252.3" font-size="8.6" text-anchor="end" font-weight="normal" font-style="normal" fill="#000" transform="rotate(-90 598.39 252.3)" >PC</text>
<text x="480.4" y="194" font-size="9.1" text-anchor="middle" font-weight="normal" font-style="normal" fill="#000" transform="rotate(-90 480.4 194)" >Correlation</text>
<text x="473.8" y="156.8" font-size="20" font-weight="bold" style="font-family:'Liberation Serif',serif">g</text>
<polyline points="509.5,227.54 521.77,221.98 534.04,245.64 546.31,230.33 558.58,242.86 570.85,245.64 583.12,245.64 595.39,217.1" fill="none" stroke="#00ffff" stroke-width="0.9" stroke-linejoin="round" />
<polygon points="509.5,225.94 510.9,227.54 509.5,229.14 508.1,227.54" fill="#00ffff"/>
<polygon points="521.77,220.38 523.17,221.98 521.77,223.58 520.37,221.98" fill="#00ffff"/>
<polygon points="534.04,244.04 535.44,245.64 534.04,247.24 532.64,245.64" fill="#00ffff"/>
<polygon points="546.31,228.73 547.71,230.33 546.31,231.93 544.91,230.33" fill="#00ffff"/>
<polygon points="558.58,241.26 559.98,242.86 558.58,244.46 557.18,242.86" fill="#00ffff"/>
<polygon points="570.85,244.04 572.25,245.64 570.85,247.24 569.45,245.64" fill="#00ffff"/>
<polygon points="583.12,244.04 584.52,245.64 583.12,247.24 581.72,245.64" fill="#00ffff"/>
<polygon points="595.39,215.5 596.79,217.1 595.39,218.7 593.99,217.1" fill="#00ffff"/>
<polyline points="509.5,229.63 521.77,242.16 534.04,211.54 546.31,222.67 558.58,221.98 570.85,227.54 583.12,233.11 595.39,224.76" fill="none" stroke="#0000ff" stroke-width="0.9" stroke-linejoin="round" />
<polygon points="509.5,231.23 511,228.53 508,228.53" fill="#0000ff"/>
<polygon points="521.77,243.76 523.27,241.06 520.27,241.06" fill="#0000ff"/>
<polygon points="534.04,213.14 535.54,210.44 532.54,210.44" fill="#0000ff"/>
<polygon points="546.31,224.27 547.81,221.57 544.81,221.57" fill="#0000ff"/>
<polygon points="558.58,223.58 560.08,220.88 557.08,220.88" fill="#0000ff"/>
<polygon points="570.85,229.14 572.35,226.44 569.35,226.44" fill="#0000ff"/>
<polygon points="583.12,234.71 584.62,232.01 581.62,232.01" fill="#0000ff"/>
<polygon points="595.39,226.36 596.89,223.66 593.89,223.66" fill="#0000ff"/>
<polyline points="509.5,234.3 521.77,242.16 534.04,206.66 546.31,224.76 558.58,217.1 570.85,221.98 583.12,228.24 595.39,233.11" fill="none" stroke="#00ee00" stroke-width="0.9" stroke-linejoin="round" />
<polygon points="509.5,232.7 511,235.4 508,235.4" fill="#00ee00"/>
<polygon points="521.77,240.56 523.27,243.26 520.27,243.26" fill="#00ee00"/>
<polygon points="534.04,205.06 535.54,207.76 532.54,207.76" fill="#00ee00"/>
<polygon points="546.31,223.16 547.81,225.86 544.81,225.86" fill="#00ee00"/>
<polygon points="558.58,215.5 560.08,218.2 557.08,218.2" fill="#00ee00"/>
<polygon points="570.85,220.38 572.35,223.08 569.35,223.08" fill="#00ee00"/>
<polygon points="583.12,226.64 584.62,229.34 581.62,229.34" fill="#00ee00"/>
<polygon points="595.39,231.51 596.89,234.21 593.89,234.21" fill="#00ee00"/>
<polyline points="509.5,230.33 521.77,232.76 534.04,228.59 546.31,172.56 558.58,209.45 570.85,200.4 583.12,192.74 595.39,226.85" fill="none" stroke="#ff0000" stroke-width="0.9" stroke-linejoin="round" />
<circle cx="509.5" cy="230.33" r="1.3" fill="#ff0000"/>
<circle cx="521.77" cy="232.76" r="1.3" fill="#ff0000"/>
<circle cx="534.04" cy="228.59" r="1.3" fill="#ff0000"/>
<circle cx="546.31" cy="172.56" r="1.3" fill="#ff0000"/>
<circle cx="558.58" cy="209.45" r="1.3" fill="#ff0000"/>
<circle cx="570.85" cy="200.4" r="1.3" fill="#ff0000"/>
<circle cx="583.12" cy="192.74" r="1.3" fill="#ff0000"/>
<circle cx="595.39" cy="226.85" r="1.3" fill="#ff0000"/>
<polyline points="509.5,228.94 521.77,233.11 534.04,166.99 546.31,205.97 558.58,172.56 570.85,176.04 583.12,205.27 595.39,235.2" fill="none" stroke="#000000" stroke-width="0.9" stroke-linejoin="round" />
<rect x="508.3" y="227.74" width="2.4" height="2.4" fill="#000000"/>
<rect x="520.57" y="231.91" width="2.4" height="2.4" fill="#000000"/>
<rect x="532.84" y="165.79" width="2.4" height="2.4" fill="#000000"/>
<rect x="545.11" y="204.77" width="2.4" height="2.4" fill="#000000"/>
<rect x="557.38" y="171.36" width="2.4" height="2.4" fill="#000000"/>
<rect x="569.65" y="174.84" width="2.4" height="2.4" fill="#000000"/>
<rect x="581.92" y="204.07" width="2.4" height="2.4" fill="#000000"/>
<rect x="594.19" y="234" width="2.4" height="2.4" fill="#000000"/>
<rect x="586.6" y="155.1" width="37.4" height="48.5" fill="#fff" stroke="#aaa" stroke-width="0.6"/>
<line x1="588.5" y1="160.5" x2="605.7" y2="160.5" stroke="#000000" stroke-width="0.9" />
<rect x="595.9" y="159.3" width="2.4" height="2.4" fill="#000000"/>
<text x="607.6" y="163.3" font-size="7.6" text-anchor="start" font-weight="normal" font-style="normal" fill="#000" >PC1</text>
<line x1="588.5" y1="170.1" x2="605.7" y2="170.1" stroke="#ff0000" stroke-width="0.9" />
<circle cx="597.1" cy="170.1" r="1.3" fill="#ff0000"/>
<text x="607.6" y="172.9" font-size="7.6" text-anchor="start" font-weight="normal" font-style="normal" fill="#000" >PC2</text>
<line x1="588.5" y1="179.7" x2="605.7" y2="179.7" stroke="#00ee00" stroke-width="0.9" />
<polygon points="597.1,178.1 598.6,180.8 595.6,180.8" fill="#00ee00"/>
<text x="607.6" y="182.5" font-size="7.6" text-anchor="start" font-weight="normal" font-style="normal" fill="#000" >PC3</text>
<line x1="588.5" y1="189.3" x2="605.7" y2="189.3" stroke="#0000ff" stroke-width="0.9" />
<polygon points="597.1,190.9 598.6,188.2 595.6,188.2" fill="#0000ff"/>
<text x="607.6" y="192.1" font-size="7.6" text-anchor="start" font-weight="normal" font-style="normal" fill="#000" >PC4</text>
<line x1="588.5" y1="198.9" x2="605.7" y2="198.9" stroke="#00ffff" stroke-width="0.9" />
<polygon points="597.1,197.3 598.5,198.9 597.1,200.5 595.7,198.9" fill="#00ffff"/>
<text x="607.6" y="201.7" font-size="7.6" text-anchor="start" font-weight="normal" font-style="normal" fill="#000" >PC5</text>
</g>
</svg></body></html>
